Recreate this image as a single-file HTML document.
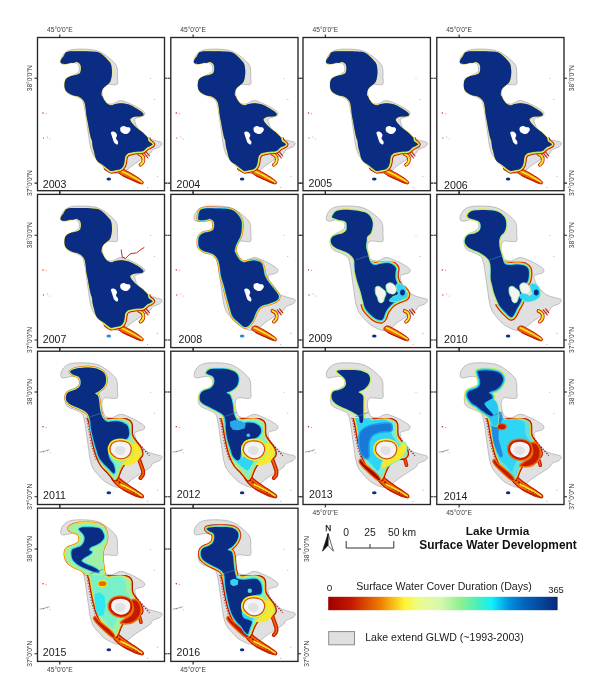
<!DOCTYPE html>
<html><head><meta charset="utf-8"><style>
html,body{margin:0;padding:0;background:#fff;}
svg{display:block;}
svg{will-change:transform;}
</style></head><body>
<svg width="602" height="699" viewBox="0 0 602 699">
<defs>
<linearGradient id="ramp" x1="0" x2="1" y1="0" y2="0">
<stop offset="0" stop-color="#a00000"/>
<stop offset="0.1" stop-color="#c41800"/>
<stop offset="0.23" stop-color="#f08000"/>
<stop offset="0.333" stop-color="#fff530"/>
<stop offset="0.40" stop-color="#eafc90"/>
<stop offset="0.487" stop-color="#d8f8b0"/>
<stop offset="0.574" stop-color="#90f090"/>
<stop offset="0.66" stop-color="#40f0c0"/>
<stop offset="0.713" stop-color="#10f0ff"/>
<stop offset="0.79" stop-color="#0090e0"/>
<stop offset="0.85" stop-color="#0068c0"/>
<stop offset="1" stop-color="#08287a"/>
</linearGradient>
<path id="glwd" d="M23.2,24.0 C23.2,22.8 23.7,20.7 24.5,19.1 C25.3,17.6 26.6,15.8 28.2,14.7 C29.8,13.5 31.7,12.7 34.4,12.2 C37.1,11.7 41.1,11.6 44.4,11.6 C47.7,11.6 51.5,11.8 54.4,12.2 C57.3,12.6 59.5,13.2 61.8,14.1 C64.1,15.0 66.0,16.4 68.1,17.8 C70.2,19.2 72.5,21.1 74.3,22.8 C76.1,24.5 77.8,26.1 78.7,27.8 C79.6,29.5 79.7,30.9 79.9,32.8 C80.1,34.7 79.9,36.7 79.9,39.0 C79.9,41.3 80.8,45.1 79.9,46.5 C79.0,47.9 76.3,47.1 74.3,47.1 C72.3,47.1 69.6,46.2 68.1,46.5 C66.5,46.8 65.6,47.8 65.0,49.0 C64.4,50.2 64.2,52.0 64.3,53.9 C64.4,55.8 65.0,58.3 65.6,60.2 C66.2,62.1 66.8,64.2 68.1,65.2 C69.3,66.2 71.8,66.4 73.1,66.5 C74.4,66.6 74.4,66.6 76.1,66.0 C77.8,65.4 80.7,63.1 83.4,63.1 C86.1,63.1 89.2,64.8 92.1,66.0 C95.0,67.2 98.5,68.9 100.9,70.4 C103.4,71.9 106.0,73.5 106.8,74.8 C107.6,76.1 107.0,77.6 106.0,78.4 C105.0,79.2 102.4,79.3 100.9,79.9 C99.4,80.5 97.5,80.5 97.2,82.1 C97.0,83.7 98.1,87.0 99.4,89.4 C100.8,91.8 103.3,94.8 105.3,96.7 C107.2,98.7 108.9,100.0 111.1,101.1 C113.3,102.2 116.3,102.7 118.4,103.3 C120.5,103.9 122.6,104.1 123.6,104.7 C124.6,105.3 124.7,106.1 124.3,106.9 C123.9,107.8 122.9,109.0 121.4,109.8 C119.9,110.6 117.0,111.0 115.5,112.0 C114.0,113.0 114.4,114.5 112.7,116.0 C111.0,117.5 107.8,119.3 105.4,120.9 C103.0,122.5 100.1,124.4 98.1,125.7 C96.1,127.0 94.9,127.9 93.5,129.0 C92.1,130.1 91.0,131.4 89.5,132.5 C88.0,133.6 86.3,134.9 84.5,135.5 C82.7,136.1 80.4,136.1 78.5,135.8 C76.6,135.5 75.0,134.5 73.1,133.6 C71.2,132.7 69.2,131.8 67.3,130.3 C65.3,128.8 63.3,126.7 61.4,124.5 C59.5,122.3 57.0,119.9 55.6,117.2 C54.2,114.5 53.4,111.6 52.7,108.4 C52.0,105.2 51.7,101.5 51.2,98.1 C50.7,94.7 50.2,91.3 49.7,87.9 C49.2,84.5 48.8,80.9 48.3,77.7 C47.8,74.5 47.4,71.4 46.8,68.9 C46.2,66.4 46.0,64.3 44.6,62.6 C43.2,60.9 40.3,59.9 38.2,58.9 C36.1,57.9 33.5,57.2 31.9,56.4 C30.3,55.6 29.5,54.9 28.8,53.9 C28.1,52.9 27.8,51.7 27.6,50.2 C27.4,48.8 27.3,46.7 27.6,45.2 C27.9,43.8 28.5,42.5 29.4,41.5 C30.3,40.5 31.7,39.8 33.2,39.0 C34.7,38.2 36.9,37.3 38.2,36.5 C39.6,35.7 40.7,35.0 41.3,34.0 C41.9,33.0 42.0,31.4 41.9,30.3 C41.8,29.2 41.3,28.0 40.7,27.2 C40.1,26.4 39.5,25.6 38.2,25.3 C37.0,25.0 34.9,25.1 33.2,25.3 C31.5,25.5 29.6,26.3 28.2,26.5 C26.8,26.7 25.3,26.9 24.5,26.5 C23.7,26.1 23.2,25.2 23.2,24.0 Z"/>
<path id="navy2003" d="M23.0,24.5 C22.9,23.8 23.5,22.4 24.0,21.5 C24.5,20.6 25.4,19.9 26.0,19.0 C26.6,18.1 26.9,16.8 27.5,16.0 C28.1,15.2 28.3,14.9 29.5,14.5 C30.7,14.1 32.0,13.8 34.5,13.7 C37.0,13.6 41.1,13.6 44.4,13.7 C47.7,13.8 51.6,13.8 54.4,14.0 C57.2,14.2 59.4,14.2 61.4,15.0 C63.4,15.8 64.9,17.2 66.4,18.5 C67.9,19.8 69.2,21.2 70.3,22.5 C71.4,23.8 72.6,24.9 73.3,26.4 C74.0,27.9 74.1,29.6 74.3,31.4 C74.5,33.2 74.5,35.6 74.3,37.4 C74.1,39.2 73.7,41.1 73.3,42.4 C72.9,43.7 72.5,44.5 71.8,45.4 C71.0,46.3 69.8,47.1 68.8,47.9 C67.8,48.7 66.6,49.5 65.9,50.4 C65.2,51.3 64.7,52.2 64.4,53.4 C64.1,54.6 63.9,56.5 63.9,57.4 C63.9,58.2 64.2,57.6 64.7,58.5 C65.2,59.4 65.8,61.2 66.7,62.5 C67.6,63.8 68.9,65.6 70.1,66.5 C71.3,67.4 72.8,67.8 74.1,67.8 C75.4,67.8 76.2,66.8 78.0,66.5 C79.8,66.2 82.5,65.7 84.7,65.8 C86.9,65.9 89.1,66.3 91.3,67.1 C93.5,67.9 96.0,69.3 98.0,70.4 C100.0,71.5 102.0,72.8 103.3,73.8 C104.6,74.8 105.7,75.6 105.9,76.4 C106.1,77.2 105.9,78.0 104.6,78.4 C103.3,78.9 99.8,78.8 98.0,79.1 C96.2,79.4 94.9,79.9 94.0,80.4 C93.1,81.0 92.5,81.4 92.7,82.4 C92.9,83.4 94.2,85.1 95.3,86.4 C96.4,87.7 97.8,89.1 99.3,90.4 C100.8,91.7 102.8,92.9 104.6,94.4 C106.4,96.0 108.8,98.2 109.9,99.7 C111.0,101.2 110.2,102.3 111.0,103.5 C111.8,104.7 114.8,105.9 115.0,106.8 C115.2,107.7 113.2,108.2 112.3,108.8 C111.4,109.3 110.7,109.3 109.6,110.1 C108.5,110.9 107.1,112.8 105.6,113.5 C104.0,114.2 102.1,113.9 100.3,114.1 C98.5,114.3 96.7,114.5 95.0,114.8 C93.3,115.1 91.5,115.3 90.3,116.1 C89.1,116.9 88.2,118.1 87.7,119.4 C87.2,120.7 87.3,122.5 87.0,124.1 C86.7,125.6 86.4,127.5 85.7,128.7 C85.0,129.9 84.3,130.7 83.0,131.4 C81.7,132.1 79.2,132.4 77.7,132.7 C76.2,133.0 74.9,133.6 73.7,133.4 C72.5,133.2 71.5,132.2 70.4,131.4 C69.3,130.6 68.3,129.6 67.1,128.7 C65.9,127.8 64.3,127.0 63.1,126.1 C61.9,125.2 60.7,124.5 59.8,123.4 C58.9,122.3 58.3,121.0 57.8,119.4 C57.2,117.9 57.0,115.9 56.5,114.1 C56.0,112.3 55.4,110.6 55.1,108.8 C54.8,107.0 54.8,105.0 54.5,103.5 C54.2,102.0 53.7,101.7 53.2,99.7 C52.7,97.7 52.0,94.4 51.5,91.7 C51.0,89.0 50.6,86.1 50.1,83.7 C49.6,81.3 49.1,79.3 48.8,77.1 C48.5,74.9 48.4,72.5 48.1,70.4 C47.8,68.3 47.6,66.2 46.8,64.5 C46.0,62.9 44.7,61.5 43.5,60.5 C42.3,59.5 40.4,58.9 39.5,58.5 C38.6,58.1 39.4,58.7 38.4,58.4 C37.4,58.1 35.0,57.6 33.5,56.9 C32.0,56.2 30.5,55.3 29.5,54.4 C28.5,53.5 27.9,52.6 27.5,51.4 C27.1,50.2 27.0,48.7 27.0,47.4 C27.0,46.1 27.1,44.6 27.5,43.4 C27.9,42.2 28.5,41.2 29.5,40.4 C30.5,39.6 32.0,38.9 33.5,38.4 C35.0,37.9 37.0,37.8 38.4,37.4 C39.8,37.0 41.1,36.6 41.9,35.9 C42.7,35.2 43.0,34.5 43.2,33.4 C43.5,32.3 43.5,30.6 43.4,29.4 C43.3,28.2 43.1,27.2 42.4,26.4 C41.7,25.6 40.5,24.7 39.4,24.5 C38.2,24.3 36.6,25.2 35.5,25.4 C34.4,25.5 33.7,25.2 32.5,25.4 C31.3,25.6 29.8,26.3 28.5,26.4 C27.2,26.5 25.4,26.3 24.5,26.0 C23.6,25.7 23.1,25.2 23.0,24.5 Z"/>
<path id="navy2008" d="M27.6,25.0 C27.0,24.1 27.6,21.8 27.8,20.5 C28.0,19.2 28.2,17.9 28.6,17.0 C29.1,16.1 29.5,15.5 30.5,15.0 C31.5,14.5 32.2,14.2 34.5,14.0 C36.8,13.8 41.1,13.9 44.4,14.0 C47.7,14.1 51.6,14.1 54.4,14.3 C57.2,14.6 59.1,14.8 61.0,15.5 C62.9,16.2 64.2,17.3 65.5,18.5 C66.8,19.7 67.9,21.1 68.8,22.5 C69.7,23.9 70.4,25.4 70.8,27.0 C71.2,28.6 71.0,30.2 71.0,32.0 C71.0,33.8 70.8,35.8 70.5,37.5 C70.2,39.2 70.0,40.6 69.5,42.0 C69.0,43.4 68.2,44.7 67.5,46.0 C66.8,47.3 66.0,48.8 65.5,50.0 C65.0,51.2 64.7,52.2 64.4,53.4 C64.1,54.6 63.9,56.5 63.9,57.4 C63.9,58.2 64.2,57.6 64.7,58.5 C65.2,59.4 65.8,61.2 66.7,62.5 C67.6,63.8 68.9,65.6 70.1,66.5 C71.3,67.4 72.8,67.8 74.1,67.8 C75.4,67.8 76.2,67.0 78.0,66.8 C79.8,66.5 82.6,66.0 84.7,66.3 C86.8,66.6 89.2,67.2 90.5,68.5 C91.8,69.8 92.0,71.9 92.6,74.0 C93.2,76.1 93.1,78.9 94.1,81.3 C95.1,83.7 96.8,86.2 98.5,88.6 C100.2,91.0 102.7,93.7 104.3,95.9 C105.9,98.1 107.8,100.1 108.0,101.8 C108.2,103.5 107.4,104.9 105.8,106.1 C104.2,107.3 101.2,108.1 98.5,109.1 C95.8,110.1 91.9,110.5 89.7,112.0 C87.5,113.5 86.5,115.6 85.3,117.8 C84.1,120.0 83.6,123.0 82.4,125.2 C81.2,127.4 79.5,129.8 78.0,131.0 C76.5,132.2 75.3,133.0 73.6,132.5 C71.9,132.0 69.8,129.8 67.8,128.1 C65.8,126.4 63.4,124.6 61.9,122.2 C60.4,119.8 60.0,116.7 59.0,113.5 C58.0,110.3 57.1,106.9 56.1,103.2 C55.1,99.5 54.2,95.2 53.2,91.5 C52.2,87.8 50.9,84.7 50.2,81.3 C49.5,77.9 49.4,73.8 48.8,71.0 C48.2,68.2 47.7,66.2 46.8,64.5 C45.9,62.8 44.7,61.5 43.5,60.5 C42.3,59.5 41.2,59.1 39.5,58.5 C37.8,57.9 35.2,57.6 33.5,56.9 C31.8,56.2 30.4,55.3 29.5,54.4 C28.6,53.5 28.1,52.6 27.8,51.4 C27.5,50.2 27.5,48.7 27.5,47.4 C27.5,46.1 27.6,44.5 28.0,43.4 C28.4,42.3 28.9,41.4 29.8,40.6 C30.7,39.8 32.1,38.9 33.5,38.4 C34.9,37.9 37.0,37.8 38.4,37.4 C39.8,37.0 41.1,36.6 41.9,35.9 C42.7,35.2 43.0,34.5 43.2,33.4 C43.5,32.3 43.5,30.6 43.4,29.4 C43.3,28.2 43.1,27.2 42.4,26.4 C41.7,25.6 40.5,24.7 39.4,24.5 C38.2,24.3 36.8,25.2 35.5,25.4 C34.2,25.6 32.8,25.9 31.5,25.8 C30.2,25.7 28.2,25.9 27.6,25.0 Z"/>
<path id="navy2009" d="M29.1,22.9 C28.9,22.1 29.7,20.6 30.4,19.6 C31.1,18.6 31.8,17.6 33.1,16.9 C34.4,16.2 36.0,15.8 38.4,15.6 C40.8,15.4 44.6,15.4 47.7,15.6 C50.8,15.8 54.3,16.3 57.0,16.9 C59.7,17.4 61.9,17.9 63.7,18.9 C65.5,19.9 66.7,21.3 67.7,22.9 C68.7,24.4 69.4,26.4 69.7,28.2 C70.0,30.0 69.6,31.7 69.3,33.5 C69.0,35.3 68.5,37.3 67.7,38.8 C66.9,40.2 65.0,40.9 64.3,42.2 C63.6,43.5 63.9,45.1 63.7,46.8 C63.5,48.4 62.9,50.3 63.0,52.1 C63.1,53.9 63.8,55.6 64.3,57.4 C64.8,59.2 65.1,61.0 65.7,62.8 C66.3,64.6 66.7,66.8 67.7,68.1 C68.7,69.4 69.8,70.5 71.6,70.7 C73.4,70.9 76.1,69.7 78.3,69.4 C80.5,69.1 82.9,68.5 84.9,68.7 C86.9,68.9 88.9,69.8 90.2,70.7 C91.5,71.6 92.6,72.8 93.0,74.0 C93.4,75.2 92.6,76.2 92.5,78.0 C92.4,79.8 92.0,82.2 92.6,84.5 C93.2,86.8 94.9,90.2 96.3,92.0 C97.7,93.8 99.5,93.8 100.8,95.0 C102.0,96.2 103.5,98.1 103.8,99.5 C104.0,100.9 103.5,102.2 102.3,103.2 C101.0,104.2 98.3,104.6 96.3,105.5 C94.3,106.4 92.0,107.2 90.3,108.5 C88.5,109.8 87.0,111.5 85.8,113.0 C84.5,114.5 83.7,115.7 82.8,117.4 C81.9,119.1 81.3,122.0 80.6,123.4 C79.9,124.8 79.5,125.5 78.4,125.7 C77.3,126.0 75.4,125.5 73.9,124.9 C72.4,124.3 70.9,123.2 69.4,121.9 C67.9,120.7 66.2,118.9 64.9,117.4 C63.7,115.9 62.8,115.0 61.9,113.0 C61.0,111.0 60.5,108.2 59.7,105.5 C59.0,102.8 58.3,99.5 57.4,96.5 C56.5,93.5 55.3,90.5 54.4,87.5 C53.5,84.5 52.7,81.2 52.2,78.6 C51.7,76.0 51.7,74.2 51.5,72.0 C51.3,69.8 51.6,67.3 51.0,65.4 C50.4,63.5 49.1,62.1 47.7,60.8 C46.3,59.5 44.2,58.3 42.4,57.4 C40.6,56.5 38.9,56.2 37.1,55.4 C35.3,54.6 33.2,53.8 31.8,52.8 C30.4,51.8 29.2,50.7 28.5,49.5 C27.8,48.3 27.6,46.7 27.8,45.5 C28.0,44.3 28.7,43.1 29.8,42.2 C30.9,41.3 32.8,40.8 34.4,40.2 C36.0,39.6 38.2,39.5 39.7,38.8 C41.2,38.1 42.4,37.3 43.1,36.2 C43.8,35.1 43.7,33.5 43.7,32.2 C43.7,30.9 43.8,29.2 43.1,28.2 C42.4,27.2 40.9,26.6 39.7,26.2 C38.5,25.8 37.1,25.8 35.8,25.5 C34.5,25.2 32.9,24.6 31.8,24.2 C30.7,23.8 29.3,23.7 29.1,22.9 Z"/>
<path id="navy2010" d="M30.6,21.6 C30.5,20.6 31.5,19.1 32.6,18.2 C33.7,17.3 35.0,16.6 37.3,16.2 C39.6,15.8 43.5,15.6 46.6,15.6 C49.7,15.6 53.2,15.8 55.9,16.2 C58.5,16.6 60.6,17.2 62.5,18.2 C64.4,19.2 66.1,20.8 67.2,22.2 C68.3,23.6 68.9,25.1 69.2,26.9 C69.5,28.7 69.5,31.0 69.2,32.9 C68.9,34.8 68.1,36.8 67.2,38.2 C66.3,39.6 64.7,40.3 63.9,41.5 C63.1,42.7 62.7,44.0 62.5,45.5 C62.3,47.0 62.3,48.8 62.5,50.8 C62.7,52.8 63.3,55.2 63.9,57.4 C64.5,59.6 65.2,62.1 65.9,64.1 C66.6,66.1 66.7,68.3 67.9,69.4 C69.1,70.5 71.0,70.6 73.2,70.7 C75.4,70.8 78.7,70.0 81.1,70.1 C83.5,70.2 86.1,70.6 87.8,71.4 C89.5,72.2 90.8,73.0 91.5,74.7 C92.2,76.4 92.2,79.5 92.0,81.6 C91.8,83.7 91.5,85.9 90.5,87.5 C89.5,89.1 87.0,89.2 86.0,91.0 C85.0,92.8 84.8,95.5 84.5,98.0 C84.2,100.5 85.2,103.3 84.5,106.0 C83.8,108.7 81.3,112.0 80.1,114.4 C78.9,116.8 78.1,119.0 77.1,120.4 C76.1,121.8 75.6,123.2 74.1,122.7 C72.6,122.2 70.1,119.5 68.1,117.4 C66.1,115.3 63.9,113.0 62.1,110.0 C60.4,107.0 58.8,102.8 57.6,99.5 C56.5,96.2 55.8,92.6 55.2,90.0 C54.6,87.4 54.1,86.8 53.9,84.0 C53.7,81.2 54.1,76.3 53.9,73.4 C53.7,70.5 53.5,68.7 52.6,66.8 C51.7,64.9 50.3,63.5 48.6,62.1 C46.9,60.7 44.7,59.2 42.6,58.1 C40.5,57.0 38.0,56.4 36.0,55.4 C34.0,54.4 31.9,53.3 30.6,52.1 C29.3,50.9 28.3,49.5 28.0,48.1 C27.7,46.7 28.0,44.8 28.7,43.5 C29.4,42.2 30.4,41.0 32.0,40.2 C33.6,39.4 36.8,39.5 38.6,38.8 C40.4,38.1 41.7,37.4 42.6,36.2 C43.5,35.0 43.9,33.0 43.9,31.5 C43.9,30.1 43.5,28.5 42.6,27.5 C41.7,26.5 40.2,26.1 38.6,25.5 C37.0,24.9 34.6,24.8 33.3,24.2 C32.0,23.6 30.7,22.6 30.6,21.6 Z"/>
<path id="navy2011" d="M32.8,21.0 C32.4,20.2 33.0,19.6 34.4,18.9 C35.8,18.2 38.2,17.3 41.1,16.9 C44.0,16.4 48.6,16.1 51.7,16.2 C54.8,16.3 57.4,16.8 59.7,17.6 C62.0,18.4 64.3,19.6 65.7,20.9 C67.1,22.2 67.9,23.7 68.3,25.5 C68.7,27.3 68.7,29.7 68.3,31.5 C67.9,33.3 66.9,34.8 65.7,36.2 C64.5,37.7 62.3,39.2 61.0,40.2 C59.7,41.2 57.8,41.5 57.7,42.2 C57.6,42.9 59.6,43.0 60.3,44.2 C61.0,45.4 61.4,47.5 61.7,49.5 C62.0,51.5 62.0,53.9 62.3,56.1 C62.6,58.3 63.0,60.8 63.7,62.8 C64.4,64.8 65.2,66.8 66.3,68.1 C67.4,69.4 68.5,70.4 70.3,70.7 C72.1,71.0 74.8,70.1 77.0,70.1 C79.2,70.1 81.6,70.2 83.6,70.7 C85.6,71.2 87.7,72.3 88.9,73.4 C90.1,74.5 90.6,75.6 91.0,77.4 C91.4,79.2 92.0,82.3 91.4,84.2 C90.9,86.1 89.5,87.6 87.7,88.6 C85.9,89.6 82.6,89.6 80.4,90.1 C78.2,90.6 76.0,90.5 74.6,91.5 C73.1,92.5 72.3,94.0 71.7,95.9 C71.1,97.9 70.7,101.0 70.9,103.2 C71.1,105.4 72.2,107.4 73.1,109.1 C74.0,110.8 75.4,111.8 76.1,113.5 C76.8,115.2 77.5,117.8 77.5,119.3 C77.5,120.8 77.1,122.5 76.1,122.2 C75.1,122.0 73.4,119.5 71.7,117.8 C70.0,116.1 67.5,114.0 65.8,112.0 C64.1,110.0 62.6,108.5 61.4,106.1 C60.2,103.7 59.5,100.6 58.5,97.4 C57.5,94.2 56.5,90.5 55.6,87.1 C54.8,83.7 53.9,79.8 53.4,76.9 C52.9,74.1 53.0,71.5 52.8,70.0 C52.6,68.5 52.9,69.4 52.4,68.1 C51.9,66.8 51.2,63.8 49.7,62.1 C48.2,60.4 45.8,59.2 43.7,58.1 C41.6,57.0 39.2,56.4 37.1,55.4 C35.0,54.4 32.5,53.3 31.1,52.1 C29.7,50.9 28.8,49.7 28.5,48.1 C28.2,46.5 28.5,44.1 29.1,42.8 C29.8,41.5 30.8,41.0 32.4,40.2 C33.9,39.4 36.7,39.1 38.4,38.2 C40.1,37.3 41.6,36.4 42.4,34.9 C43.2,33.4 43.3,31.1 43.1,29.5 C42.9,27.9 42.2,26.4 41.1,25.5 C40.0,24.6 37.9,24.6 36.5,23.8 C35.1,23.1 33.1,21.8 32.8,21.0 Z"/>
<path id="navy2012" d="M35.5,21.5 C35.8,20.7 36.8,18.8 38.9,18.2 C41.0,17.6 45.1,17.6 48.2,17.6 C51.3,17.6 54.8,17.6 57.5,18.2 C60.2,18.8 62.5,19.7 64.2,20.9 C65.9,22.1 67.0,23.8 67.5,25.5 C68.0,27.2 67.8,29.2 67.5,30.9 C67.2,32.6 66.7,34.1 65.5,35.5 C64.3,36.9 61.9,38.5 60.2,39.5 C58.5,40.5 55.7,40.8 55.5,41.5 C55.3,42.2 58.0,42.4 58.9,43.5 C59.8,44.6 60.2,46.2 60.8,48.1 C61.3,50.0 61.9,52.6 62.2,54.8 C62.5,57.0 62.4,59.4 62.8,61.4 C63.2,63.4 64.0,65.2 64.8,66.7 C65.6,68.2 66.3,69.8 67.5,70.7 C68.7,71.6 70.2,72.0 72.1,72.1 C74.0,72.2 76.6,71.3 78.8,71.4 C81.0,71.5 83.6,71.9 85.4,72.7 C87.2,73.5 88.6,74.6 89.4,76.0 C90.2,77.4 90.6,79.4 90.2,81.0 C89.8,82.6 88.3,84.4 86.8,85.7 C85.2,87.0 83.1,87.6 80.9,88.6 C78.7,89.6 75.3,90.3 73.6,91.5 C71.9,92.7 71.3,94.0 70.7,95.9 C70.1,97.9 70.2,101.2 70.0,103.2 C69.8,105.2 69.8,106.6 69.2,107.6 C68.6,108.6 67.5,109.6 66.3,109.1 C65.1,108.6 63.1,106.9 61.9,104.7 C60.7,102.5 60.0,99.1 59.0,95.9 C58.0,92.7 56.8,88.9 56.1,85.7 C55.4,82.5 55.2,79.3 55.0,77.0 C54.8,74.7 55.1,74.0 54.9,72.1 C54.6,70.2 54.3,67.1 53.5,65.4 C52.7,63.7 51.8,63.2 50.2,62.1 C48.7,61.0 46.3,59.9 44.2,58.8 C42.1,57.7 39.7,56.5 37.6,55.4 C35.5,54.3 33.0,53.3 31.6,52.1 C30.2,50.9 29.3,49.7 29.0,48.1 C28.7,46.5 29.0,44.2 29.6,42.8 C30.2,41.4 31.3,40.4 32.9,39.5 C34.4,38.6 37.2,38.5 38.9,37.5 C40.6,36.5 42.1,35.0 42.9,33.5 C43.7,31.9 43.8,29.6 43.6,28.2 C43.4,26.8 42.7,25.8 41.6,24.9 C40.5,24.0 37.9,23.5 36.9,22.9 C35.9,22.3 35.2,22.3 35.5,21.5 Z"/>
<path id="navy2013" d="M34.4,19.6 C35.4,19.2 38.2,19.0 41.1,18.9 C44.0,18.8 48.6,18.7 51.7,18.9 C54.8,19.1 57.5,19.5 59.7,20.2 C61.9,20.9 63.8,21.7 65.0,22.9 C66.2,24.1 66.9,25.8 67.0,27.5 C67.1,29.2 66.6,31.2 65.7,32.9 C64.8,34.6 63.4,36.2 61.7,37.5 C60.0,38.8 56.2,39.9 55.7,40.8 C55.2,41.7 57.6,42.0 58.4,42.8 C59.2,43.6 60.0,44.0 60.3,45.5 C60.6,47.0 60.3,49.7 60.3,52.1 C60.3,54.5 60.3,57.7 60.3,60.1 C60.3,62.5 60.4,64.9 60.3,66.7 C60.2,68.5 60.2,69.9 59.7,70.7 C59.2,71.5 57.7,72.3 57.0,71.4 C56.3,70.5 56.8,67.1 55.7,65.4 C54.6,63.7 52.6,62.7 50.4,61.4 C48.2,60.1 45.1,58.7 42.4,57.4 C39.7,56.1 36.5,54.8 34.4,53.5 C32.3,52.2 30.8,51.0 29.8,49.5 C28.8,48.0 28.4,45.8 28.5,44.2 C28.6,42.7 29.2,41.1 30.4,40.2 C31.6,39.3 34.0,39.5 35.8,38.8 C37.6,38.1 39.9,37.3 41.1,36.2 C42.3,35.1 43.0,33.7 43.1,32.2 C43.2,30.8 42.5,28.8 41.7,27.5 C40.9,26.2 39.5,25.2 38.4,24.2 C37.3,23.2 35.8,22.4 35.1,21.6 C34.4,20.8 33.4,20.1 34.4,19.6 Z"/>
<path id="navy2014" d="M41.6,20.0 C42.8,19.6 45.9,19.2 48.5,19.2 C51.1,19.2 54.7,19.5 57.1,20.0 C59.5,20.5 61.6,21.1 63.1,22.2 C64.6,23.3 65.7,25.1 66.1,26.5 C66.5,27.9 66.2,29.4 65.7,30.8 C65.2,32.2 64.2,33.8 63.1,35.1 C62.0,36.4 60.4,37.6 58.8,38.5 C57.2,39.4 54.8,39.6 53.6,40.2 C52.5,40.8 51.8,41.3 51.9,41.9 C52.0,42.5 53.9,42.8 54.5,43.7 C55.1,44.6 55.9,46.1 55.3,47.1 C54.7,48.1 52.4,48.8 51.1,49.7 C49.8,50.6 47.8,51.1 47.6,52.3 C47.5,53.4 49.2,55.3 50.2,56.6 C51.2,57.9 52.6,58.9 53.6,60.0 C54.6,61.1 55.9,62.5 56.2,63.4 C56.5,64.2 56.1,65.1 55.3,65.1 C54.4,65.1 52.8,64.4 51.1,63.4 C49.4,62.4 46.9,60.5 45.0,59.1 C43.1,57.7 41.5,55.9 39.9,54.8 C38.3,53.7 36.9,53.4 35.6,52.3 C34.3,51.2 33.0,49.4 32.1,48.0 C31.2,46.6 30.4,45.0 30.4,43.7 C30.4,42.4 31.1,41.1 32.1,40.2 C33.1,39.3 35.0,39.1 36.4,38.5 C37.8,37.9 39.6,37.6 40.7,36.8 C41.9,35.9 42.9,34.7 43.3,33.4 C43.7,32.1 43.5,30.5 43.3,29.1 C43.1,27.7 42.4,26.0 42.0,24.8 C41.6,23.6 41.3,22.6 41.2,21.8 C41.1,21.0 40.4,20.4 41.6,20.0 Z"/>
<path id="navy2015" d="M41.5,20.6 C42.0,20.0 43.3,19.4 45.5,19.1 C47.7,18.9 51.8,18.9 54.6,19.1 C57.5,19.4 60.7,19.5 62.6,20.6 C64.5,21.7 65.4,24.1 66.1,25.6 C66.8,27.1 67.0,28.3 66.6,29.6 C66.2,30.9 64.9,32.4 63.6,33.6 C62.3,34.8 60.3,35.9 58.6,36.7 C56.9,37.6 54.8,37.9 53.6,38.7 C52.4,39.5 51.4,40.9 51.6,41.7 C51.8,42.5 54.6,42.9 54.6,43.7 C54.6,44.5 53.0,45.7 51.6,46.7 C50.2,47.7 47.8,48.7 46.5,49.7 C45.2,50.7 43.7,51.7 44.0,52.7 C44.3,53.7 46.6,54.7 48.5,55.7 C50.4,56.7 53.6,57.7 55.6,58.7 C57.6,59.7 59.6,60.8 60.6,61.7 C61.6,62.6 62.1,63.9 61.6,64.2 C61.1,64.5 59.3,64.1 57.6,63.7 C55.9,63.3 53.8,62.5 51.6,61.7 C49.4,60.9 46.5,59.7 44.5,58.7 C42.5,57.7 41.0,56.9 39.5,55.7 C38.0,54.5 36.4,53.2 35.5,51.7 C34.6,50.2 34.2,48.4 34.0,46.7 C33.8,45.0 33.8,42.9 34.5,41.7 C35.2,40.5 37.0,40.4 38.5,39.7 C40.0,39.0 42.2,38.7 43.5,37.7 C44.8,36.7 45.9,35.1 46.5,33.6 C47.1,32.1 47.3,30.1 47.0,28.6 C46.7,27.1 45.2,25.6 44.5,24.6 C43.8,23.6 43.0,23.3 42.5,22.6 C42.0,21.9 41.0,21.2 41.5,20.6 Z"/>
<path id="navy2016" d="M36.3,20.2 C37.3,19.5 41.1,19.1 44.2,18.9 C47.3,18.7 51.8,18.7 54.9,18.9 C58.0,19.1 60.8,19.4 62.8,20.2 C64.8,21.0 66.0,22.3 66.8,23.6 C67.6,24.9 67.7,26.6 67.5,28.2 C67.3,29.8 66.5,31.8 65.5,33.5 C64.5,35.2 62.9,36.9 61.5,38.2 C60.1,39.5 57.0,40.6 56.9,41.5 C56.8,42.4 59.9,42.4 60.8,43.5 C61.7,44.6 61.9,46.2 62.2,48.1 C62.5,50.0 62.6,52.6 62.8,54.8 C63.0,57.0 63.2,59.4 63.5,61.4 C63.8,63.4 64.3,65.2 64.8,66.7 C65.3,68.2 65.0,69.8 66.5,70.6 C68.0,71.4 71.4,71.6 74.0,71.6 C76.6,71.6 79.9,70.6 82.1,70.6 C84.3,70.6 85.8,70.8 87.1,71.6 C88.4,72.4 89.4,73.9 90.1,75.6 C90.8,77.3 91.1,79.9 91.1,81.6 C91.1,83.3 90.9,84.8 90.1,85.6 C89.3,86.4 87.4,86.3 86.1,86.6 C84.8,86.9 83.6,86.9 82.1,87.6 C80.6,88.3 78.6,89.5 77.1,90.7 C75.6,91.9 74.1,93.2 73.1,94.7 C72.1,96.2 71.4,97.9 71.1,99.7 C70.8,101.5 70.8,104.0 71.1,105.7 C71.4,107.4 71.9,108.7 73.1,109.7 C74.3,110.7 76.8,111.0 78.1,111.7 C79.4,112.4 80.9,112.4 81.1,113.7 C81.3,115.0 79.8,117.7 79.1,119.7 C78.4,121.7 77.9,125.0 77.1,125.7 C76.3,126.4 75.3,125.0 74.1,123.7 C72.9,122.4 71.4,119.4 70.1,117.7 C68.8,116.0 67.3,115.4 66.0,113.7 C64.7,112.0 63.2,110.0 62.0,107.7 C60.8,105.4 59.8,102.4 59.0,99.7 C58.2,97.0 57.7,94.7 57.0,91.7 C56.3,88.7 55.5,84.9 55.0,81.6 C54.5,78.2 54.2,74.1 54.0,71.6 C53.8,69.1 54.0,68.2 53.5,66.7 C53.0,65.2 52.2,64.0 50.9,62.8 C49.6,61.6 47.6,60.5 45.6,59.4 C43.6,58.3 41.0,57.3 38.9,56.1 C36.8,54.9 34.3,53.4 32.9,52.1 C31.5,50.8 30.7,49.7 30.3,48.1 C29.9,46.5 29.9,44.2 30.3,42.8 C30.7,41.4 31.6,40.4 32.9,39.5 C34.2,38.6 36.8,38.4 38.3,37.5 C39.8,36.6 41.3,35.6 42.2,34.2 C43.1,32.8 43.6,30.4 43.6,28.9 C43.6,27.3 43.1,25.9 42.2,24.9 C41.3,23.9 39.3,23.7 38.3,22.9 C37.3,22.1 35.3,20.9 36.3,20.2 Z"/>
<path id="WET" d="M31.5,21.5 C31.2,20.4 32.4,18.6 33.5,17.5 C34.6,16.4 35.8,15.7 38.0,15.2 C40.2,14.7 43.9,14.6 47.0,14.6 C50.1,14.6 53.8,14.8 56.5,15.2 C59.2,15.6 61.5,16.2 63.5,17.3 C65.5,18.4 67.3,20.0 68.5,21.5 C69.7,23.0 70.4,24.7 70.8,26.5 C71.2,28.3 71.3,30.5 71.0,32.5 C70.7,34.5 69.9,36.8 69.0,38.5 C68.1,40.2 66.2,41.1 65.5,42.5 C64.8,43.9 65.0,45.2 64.8,47.0 C64.6,48.8 64.3,50.9 64.3,53.0 C64.3,55.1 64.6,57.5 65.0,59.5 C65.4,61.5 65.9,63.5 66.7,65.0 C67.5,66.5 68.5,68.2 70.0,68.8 C71.5,69.3 73.8,68.5 76.0,68.3 C78.2,68.1 80.8,67.6 83.0,67.8 C85.2,68.0 87.8,68.6 89.5,69.5 C91.2,70.4 92.3,70.5 93.0,73.0 C93.7,75.5 92.8,81.1 93.6,84.2 C94.4,87.3 96.5,89.3 98.0,91.5 C99.5,93.7 101.4,95.5 102.4,97.4 C103.4,99.4 104.0,101.8 103.8,103.2 C103.5,104.7 102.9,105.4 100.9,106.1 C99.0,106.8 94.5,106.6 92.1,107.6 C89.7,108.6 87.9,110.3 86.3,112.0 C84.7,113.7 83.7,115.6 82.6,117.8 C81.5,120.0 80.5,123.5 79.7,125.2 C78.9,126.9 78.2,128.0 77.5,128.1 C76.8,128.2 76.7,127.3 75.5,126.0 C74.3,124.7 72.3,121.9 70.5,120.0 C68.7,118.1 66.6,116.8 64.9,114.4 C63.2,112.0 61.7,108.7 60.5,105.6 C59.3,102.5 58.5,99.2 57.6,95.9 C56.8,92.6 56.0,88.9 55.4,85.7 C54.8,82.5 54.4,79.6 53.9,76.9 C53.4,74.2 53.2,71.8 52.5,69.6 C51.8,67.4 51.1,65.2 49.5,63.5 C47.9,61.8 45.2,60.7 43.0,59.5 C40.8,58.3 38.2,57.5 36.0,56.5 C33.8,55.5 31.5,54.5 30.0,53.3 C28.5,52.0 27.7,50.5 27.2,49.0 C26.7,47.5 26.7,45.5 27.0,44.0 C27.3,42.5 27.9,41.3 29.2,40.3 C30.4,39.3 32.8,38.8 34.5,38.2 C36.2,37.6 38.2,37.4 39.5,36.5 C40.8,35.6 42.0,34.3 42.5,33.0 C43.0,31.7 43.2,29.8 42.8,28.5 C42.4,27.2 41.2,26.2 40.0,25.5 C38.8,24.8 36.9,24.7 35.5,24.0 C34.1,23.3 31.8,22.6 31.5,21.5 Z"/>
<path id="ISLAND" d="M74.5,92.5 C75.8,90.9 78.2,90.1 80.5,89.8 C82.8,89.5 86.4,89.9 88.5,90.6 C90.6,91.3 92.2,92.6 93.0,94.2 C93.8,95.8 94.1,98.1 93.6,100.0 C93.1,101.9 91.7,104.3 90.0,105.6 C88.3,106.9 85.4,107.7 83.2,107.6 C81.0,107.5 78.6,106.5 76.8,105.2 C75.0,103.9 73.0,101.7 72.6,99.6 C72.2,97.5 73.2,94.1 74.5,92.5 Z"/>
<path id="delta" d="M72.5,128.5 C73.3,129.2 75.7,131.3 77.5,132.5 C79.3,133.7 81.5,134.5 83.5,135.5 C85.5,136.5 87.5,137.5 89.5,138.5 C91.5,139.5 93.7,140.6 95.5,141.5 C97.3,142.4 99.0,143.1 100.5,143.8 C102.0,144.5 103.8,145.3 104.5,145.6"/>
<path id="delta2" d="M80.0,131.5 C81.0,131.8 84.1,132.7 86.0,133.5 C87.9,134.3 89.7,135.5 91.5,136.5 C93.3,137.5 95.4,138.7 97.0,139.5 C98.6,140.3 100.3,141.2 101.0,141.5"/>
<path id="estrip" d="M98.5,99.5 C98.8,100.4 99.9,103.2 100.6,105.0 C101.2,106.8 101.8,108.8 102.4,110.5 C103.0,112.2 103.7,113.9 104.2,115.5 C104.7,117.1 105.4,118.6 105.6,120.0 C105.8,121.4 105.7,122.9 105.2,124.0 C104.8,125.1 103.3,126.3 102.9,126.8"/>
<path id="seblob" d="M109.0,113.0 C109.9,112.9 111.5,114.7 111.5,116.0 C111.5,117.3 109.8,119.3 109.0,121.0 C108.2,122.7 107.3,124.6 106.5,126.0 C105.7,127.4 104.8,128.9 104.0,129.5 C103.2,130.1 101.9,130.1 101.5,129.5 C101.1,128.9 101.1,127.4 101.5,126.0 C101.9,124.6 103.2,122.6 104.0,121.0 C104.8,119.4 105.2,117.8 106.0,116.5 C106.8,115.2 108.1,113.1 109.0,113.0 Z"/>
<path id="isl1" d="M83.0,90.0 C83.5,89.2 85.0,88.6 86.0,88.5 C87.0,88.4 88.0,89.2 89.0,89.5 C90.0,89.8 91.3,89.5 92.0,90.0 C92.7,90.5 93.2,91.6 93.0,92.5 C92.8,93.4 91.8,94.8 91.0,95.5 C90.2,96.2 89.0,96.5 88.0,96.5 C87.0,96.5 85.8,96.0 85.0,95.5 C84.2,95.0 83.3,94.4 83.0,93.5 C82.7,92.6 82.5,90.8 83.0,90.0 Z"/>
<path id="isl2" d="M73.5,95.0 C73.8,94.2 75.2,93.9 76.0,94.0 C76.8,94.1 77.9,94.8 78.5,95.5 C79.1,96.2 79.5,97.1 79.5,98.0 C79.5,98.9 78.3,100.0 78.5,101.0 C78.7,102.0 80.2,103.0 80.5,104.0 C80.8,105.0 80.6,106.8 80.0,107.0 C79.4,107.2 77.8,106.3 77.0,105.5 C76.2,104.7 75.9,103.1 75.5,102.0 C75.1,100.9 74.8,100.2 74.5,99.0 C74.2,97.8 73.2,95.8 73.5,95.0 Z"/>
<path id="BLUE13" d="M88.0,72.5 C86.5,71.3 83.0,71.8 80.0,72.0 C77.0,72.2 73.0,72.8 70.0,73.5 C67.0,74.2 64.2,75.2 62.0,76.5 C59.8,77.8 58.0,79.1 57.0,81.0 C56.0,82.9 55.9,85.5 55.8,88.0 C55.7,90.5 55.8,93.5 56.2,96.0 C56.7,98.5 57.5,101.2 58.5,103.0 C59.5,104.8 60.8,106.5 62.0,107.0 C63.2,107.5 65.3,107.5 66.0,106.0 C66.7,104.5 65.9,100.7 66.0,98.0 C66.1,95.3 65.8,92.3 66.5,90.0 C67.2,87.7 68.2,85.5 70.0,84.0 C71.8,82.5 74.5,81.6 77.0,81.0 C79.5,80.4 83.0,80.8 85.0,80.5 C87.0,80.2 88.5,80.3 89.0,79.0 C89.5,77.7 89.5,73.7 88.0,72.5 Z"/>
<path id="BLUE14" d="M60.0,60.0 C58.8,60.8 57.8,63.8 57.0,66.0 C56.2,68.2 55.2,70.3 55.0,73.0 C54.8,75.7 55.2,78.8 55.5,82.0 C55.8,85.2 56.2,89.0 57.0,92.0 C57.8,95.0 58.9,97.7 60.0,100.0 C61.1,102.3 62.5,105.3 63.5,106.0 C64.5,106.7 65.9,105.7 66.0,104.0 C66.1,102.3 64.7,98.7 64.0,96.0 C63.3,93.3 62.3,90.8 62.0,88.0 C61.7,85.2 61.7,81.7 62.0,79.0 C62.3,76.3 63.3,74.2 64.0,72.0 C64.7,69.8 66.0,67.8 66.0,66.0 C66.0,64.2 65.0,62.0 64.0,61.0 C63.0,60.0 61.2,59.2 60.0,60.0 Z"/>
<path id="CYANS" d="M58.0,98.0 C58.2,98.8 60.5,103.7 62.0,106.0 C63.5,108.3 65.2,110.2 67.0,112.0 C68.8,113.8 71.3,115.8 73.0,117.0 C74.7,118.2 75.8,119.3 77.0,119.0 C78.2,118.7 79.0,116.5 80.0,115.0 C81.0,113.5 82.0,111.3 83.0,110.0 C84.0,108.7 84.8,107.8 86.0,107.0 C87.2,106.2 89.7,106.0 90.0,105.0 C90.3,104.0 89.3,101.8 88.0,101.0 C86.7,100.2 84.0,99.7 82.0,100.0 C80.0,100.3 77.8,101.8 76.0,103.0 C74.2,104.2 72.3,106.2 71.0,107.0 C69.7,107.8 69.2,108.2 68.0,108.0 C66.8,107.8 65.2,107.2 64.0,106.0 C62.8,104.8 62.0,102.3 61.0,101.0 C60.0,99.7 57.8,97.2 58.0,98.0 Z"/>
<path id="CYAN14" d="M44.5,48.0 C45.5,46.5 48.1,47.1 50.0,47.0 C51.9,46.9 54.3,46.7 56.0,47.5 C57.7,48.3 59.1,50.2 60.0,52.0 C60.9,53.8 61.2,55.7 61.5,58.0 C61.8,60.3 61.7,63.3 61.5,66.0 C61.3,68.7 61.4,72.7 60.5,74.0 C59.6,75.3 57.2,75.0 56.0,74.0 C54.8,73.0 54.3,70.0 53.0,68.0 C51.7,66.0 49.5,64.0 48.0,62.0 C46.5,60.0 44.6,58.3 44.0,56.0 C43.4,53.7 43.5,49.5 44.5,48.0 Z"/>
<path id="CYAN14L" d="M28.7,39.4 C29.2,38.5 30.8,38.1 31.5,38.5 C32.2,38.9 32.8,40.6 33.0,42.0 C33.2,43.4 33.2,45.6 33.0,47.0 C32.8,48.4 32.6,50.2 32.0,50.5 C31.4,50.8 30.1,50.1 29.5,49.0 C28.9,47.9 28.6,45.6 28.5,44.0 C28.4,42.4 28.2,40.3 28.7,39.4 Z"/>
<path id="REDBL" d="M57.5,108.0 C58.4,108.3 59.9,111.0 61.5,112.5 C63.1,114.0 65.2,115.5 67.0,117.0 C68.8,118.5 70.9,120.0 72.5,121.5 C74.1,123.0 75.7,124.7 76.5,126.0 C77.3,127.3 77.8,129.0 77.5,129.5 C77.2,130.0 75.8,129.8 74.5,129.0 C73.2,128.2 71.3,126.6 69.5,125.0 C67.7,123.4 65.3,121.2 63.5,119.5 C61.7,117.8 59.8,116.0 58.5,114.5 C57.2,113.0 56.2,111.6 56.0,110.5 C55.8,109.4 56.6,107.7 57.5,108.0 Z"/>
<path id="REDISL" d="M93.5,92.5 C93.9,91.1 97.0,90.9 98.5,91.5 C100.0,92.1 101.7,94.1 102.5,96.0 C103.3,97.9 103.7,100.8 103.5,103.0 C103.3,105.2 102.7,107.2 101.5,109.0 C100.3,110.8 98.5,112.4 96.5,113.5 C94.5,114.6 91.8,115.3 89.5,115.5 C87.2,115.7 83.3,115.3 83.0,114.5 C82.7,113.7 85.8,111.8 87.5,110.5 C89.2,109.2 92.1,108.2 93.5,106.5 C94.9,104.8 96.0,102.3 96.0,100.0 C96.0,97.7 93.1,93.9 93.5,92.5 Z"/>
<path id="ISL09a" d="M72.5,93.0 C73.1,91.8 74.9,91.8 76.0,92.0 C77.1,92.2 78.0,93.2 79.0,94.0 C80.0,94.8 81.3,95.5 82.0,96.5 C82.7,97.5 83.1,98.8 83.0,100.0 C82.9,101.2 81.9,102.3 81.5,103.5 C81.1,104.7 81.1,106.2 80.5,107.0 C79.9,107.8 78.8,108.5 78.0,108.5 C77.2,108.5 76.1,107.9 75.5,107.0 C74.9,106.1 75.0,104.3 74.5,103.0 C74.0,101.7 72.8,100.7 72.5,99.0 C72.2,97.3 71.9,94.2 72.5,93.0 Z"/>
<path id="ISL09b" d="M83.0,91.0 C83.3,89.6 84.9,88.8 86.0,88.5 C87.1,88.2 88.4,88.4 89.5,89.0 C90.6,89.6 91.8,90.8 92.5,92.0 C93.2,93.2 93.8,94.8 93.5,96.0 C93.2,97.2 92.1,99.0 91.0,99.5 C89.9,100.0 88.2,99.4 87.0,99.0 C85.8,98.6 84.7,98.3 84.0,97.0 C83.3,95.7 82.7,92.4 83.0,91.0 Z"/>
<path id="CYAN09" d="M93.0,90.5 C93.5,89.5 95.7,88.8 97.0,89.0 C98.3,89.2 99.9,90.2 101.0,91.5 C102.1,92.8 103.2,94.8 103.5,96.5 C103.8,98.2 103.8,100.5 103.0,102.0 C102.2,103.5 100.8,104.6 99.0,105.5 C97.2,106.4 94.1,107.3 92.0,107.5 C89.9,107.7 86.9,107.3 86.5,106.5 C86.1,105.7 88.1,103.6 89.5,102.5 C90.9,101.4 94.2,101.2 95.0,100.0 C95.8,98.8 94.3,96.6 94.0,95.0 C93.7,93.4 92.5,91.5 93.0,90.5 Z"/>
<path id="YEL13" d="M81.0,108.5 C82.4,107.2 85.1,106.8 87.0,105.5 C88.9,104.2 90.9,102.7 92.5,101.0 C94.1,99.3 95.3,97.2 96.5,95.5 C97.7,93.8 98.5,91.6 99.5,91.0 C100.5,90.4 101.8,91.0 102.5,92.0 C103.2,93.0 104.2,95.1 104.0,97.0 C103.8,98.9 102.8,101.6 101.5,103.5 C100.2,105.4 98.0,107.0 96.0,108.5 C94.0,110.0 91.5,111.3 89.5,112.5 C87.5,113.7 85.7,114.7 84.0,115.5 C82.3,116.3 80.4,117.9 79.5,117.5 C78.6,117.1 78.2,114.5 78.5,113.0 C78.8,111.5 79.6,109.8 81.0,108.5 Z"/>
<path id="WET15N" d="M32.5,18.6 C33.4,17.7 35.0,16.7 37.5,16.1 C40.0,15.5 44.1,15.2 47.5,15.1 C50.9,15.0 54.8,15.1 57.6,15.6 C60.5,16.1 62.8,16.9 64.6,18.1 C66.3,19.3 67.3,20.9 68.1,22.6 C68.8,24.4 69.1,26.6 69.1,28.6 C69.1,30.6 68.7,32.8 68.1,34.6 C67.5,36.5 66.2,38.0 65.6,39.7 C65.0,41.4 64.8,42.7 64.6,44.7 C64.4,46.7 64.4,49.2 64.6,51.7 C64.8,54.2 65.3,57.2 65.6,59.7 C65.9,62.2 66.4,64.5 66.6,66.5 C66.8,68.5 69.6,71.1 66.6,72.0 C63.6,72.9 51.5,73.0 48.5,72.0 C45.5,71.0 49.2,67.4 48.5,65.7 C47.8,64.0 46.3,62.9 44.5,61.7 C42.7,60.5 39.7,59.9 37.5,58.7 C35.3,57.5 33.0,56.2 31.5,54.7 C30.0,53.2 29.1,51.5 28.5,49.7 C27.9,47.9 27.7,45.4 28.0,43.7 C28.3,42.0 29.1,40.7 30.5,39.7 C31.9,38.7 34.7,38.6 36.5,37.7 C38.3,36.9 40.5,36.0 41.5,34.6 C42.5,33.2 42.6,31.1 42.5,29.6 C42.4,28.1 42.0,26.6 41.0,25.6 C40.0,24.6 38.0,24.3 36.5,23.6 C35.0,22.9 32.7,22.4 32.0,21.6 C31.3,20.8 31.6,19.5 32.5,18.6 Z"/>
<clipPath id="cN"><rect x="-5" y="-5" width="140" height="72"/></clipPath>
<clipPath id="cS"><rect x="-5" y="67" width="140" height="100"/></clipPath>
<clipPath id="cSW"><rect x="-5" y="67" width="67" height="43"/></clipPath>
<clipPath id="cSE"><path d="M62,67 H140 V170 H-5 V110 H62 Z"/></clipPath>
<clipPath id="seclip"><path d="M84,104 L126,98 L126,152 L66,152 L66,126 L80,118 Z"/></clipPath>
</defs>
<rect width="602" height="699" fill="#fff"/>
<g transform="translate(37.5,37.5)">
<use href="#glwd" fill="#e0e0e0" stroke="#a8a8a8" stroke-width="0.7"/>
<path d="M81.5,132.8 C82.1,132.2 83.5,131.4 85.0,131.6 C86.5,131.8 88.6,133.2 90.5,134.2 C92.4,135.2 94.6,136.4 96.5,137.6 C98.4,138.8 100.5,140.1 102.0,141.2 C103.5,142.3 105.1,143.5 105.6,144.4 C106.1,145.3 105.7,146.3 104.8,146.4 C103.9,146.5 101.7,145.8 100.0,145.2 C98.3,144.6 96.3,143.4 94.5,142.6 C92.7,141.8 90.7,141.0 89.0,140.2 C87.3,139.4 85.8,138.6 84.5,137.8 C83.2,137.0 81.7,136.2 81.2,135.4 C80.7,134.6 80.9,133.4 81.5,132.8 Z" fill="#f06800" stroke="#c41a00" stroke-width="1.0"/>
<path d="M83.5,133.4 C87.5,135 91,137.2 95,139.2 S101,142.6 104,144.6" fill="none" stroke="#f6e82a" stroke-width="1.6" stroke-linecap="round"/>
<path d="M85,138 C88.5,139.6 92,141.2 96,142.8 S100.5,144.6 103,145.6" fill="none" stroke="#c41a00" stroke-width="1.1" stroke-linecap="round"/>
<path d="M101.6,116.5 C104,117.2 105.8,119 106,121.5 C106.2,124 105,126 103,127.3" fill="none" stroke="#c41a00" stroke-width="3.6" stroke-linecap="round"/>
<path d="M101.6,116.5 C104,117.2 105.8,119 106,121.5 C106.2,124 105,126 103,127.3" fill="none" stroke="#f6e82a" stroke-width="2.0" stroke-linecap="round"/>
<path d="M106.5,115.5 L110.5,120.5 M108.8,114.5 L112,118.5" fill="none" stroke="#c41a00" stroke-width="1.1" stroke-linecap="round"/>
<use href="#navy2003" fill="none" stroke="#c41a00" stroke-width="5.5" stroke-linejoin="round" clip-path="url(#seclip)"/>
<use href="#navy2003" fill="none" stroke="#f6e82a" stroke-width="3.5" stroke-linejoin="round" clip-path="url(#seclip)"/>
<use href="#navy2003" fill="none" stroke="#8cf0b4" stroke-width="1.8" stroke-linejoin="round" clip-path="url(#seclip)"/>
<use href="#navy2003" fill="#0a2c82"/>
<use href="#navy2003" fill="none" stroke="#f6e82a" stroke-width="1.4" opacity="0.6"/>
<use href="#navy2003" fill="#0a2c82"/>
<use href="#isl1" fill="#fff"/><use href="#isl2" fill="#fff"/>
<ellipse cx="71.3" cy="141.5" rx="2.3" ry="1.5" fill="#0a2c82"/>
<circle cx="5.5" cy="75.5" r="0.7" fill="#c41a00"/>
<circle cx="8.5" cy="76.2" r="0.5" fill="#f06800"/>
<circle cx="6.0" cy="100.5" r="0.6" fill="#c41a00"/>
<circle cx="10.0" cy="99.5" r="0.5" fill="#c08080"/>
<circle cx="12.5" cy="101.5" r="0.5" fill="#b0a0a0"/>
<circle cx="113.0" cy="41.0" r="0.5" fill="#c0a0a0"/>
<circle cx="117.0" cy="62.0" r="0.5" fill="#c09090"/>
<circle cx="120.0" cy="139.0" r="0.6" fill="#b0b0c0"/>
<circle cx="110.0" cy="150.0" r="0.5" fill="#c08080"/>
<text x="5.3" y="150.1" font-size="10.6" fill="#1a1a1a" font-family="&apos;Liberation Sans&apos;, sans-serif">2003</text>
<rect x="0" y="0" width="127.0" height="153.2" fill="none" stroke="#262626" stroke-width="1.35"/>
<path d="M22.3,0 V-3 M22.3,153.2 V156.2 M0,40.8 H-3 M0,145.6 H-3 M127.0,40.8 H130.0 M127.0,145.6 H130.0" stroke="#262626" stroke-width="1.1" fill="none"/>
</g>
<g transform="translate(170.8,37.5)">
<use href="#glwd" fill="#e0e0e0" stroke="#a8a8a8" stroke-width="0.7"/>
<path d="M81.5,132.8 C82.1,132.2 83.5,131.4 85.0,131.6 C86.5,131.8 88.6,133.2 90.5,134.2 C92.4,135.2 94.6,136.4 96.5,137.6 C98.4,138.8 100.5,140.1 102.0,141.2 C103.5,142.3 105.1,143.5 105.6,144.4 C106.1,145.3 105.7,146.3 104.8,146.4 C103.9,146.5 101.7,145.8 100.0,145.2 C98.3,144.6 96.3,143.4 94.5,142.6 C92.7,141.8 90.7,141.0 89.0,140.2 C87.3,139.4 85.8,138.6 84.5,137.8 C83.2,137.0 81.7,136.2 81.2,135.4 C80.7,134.6 80.9,133.4 81.5,132.8 Z" fill="#f06800" stroke="#c41a00" stroke-width="1.0"/>
<path d="M83.5,133.4 C87.5,135 91,137.2 95,139.2 S101,142.6 104,144.6" fill="none" stroke="#f6e82a" stroke-width="1.6" stroke-linecap="round"/>
<path d="M85,138 C88.5,139.6 92,141.2 96,142.8 S100.5,144.6 103,145.6" fill="none" stroke="#c41a00" stroke-width="1.1" stroke-linecap="round"/>
<path d="M101.6,116.5 C104,117.2 105.8,119 106,121.5 C106.2,124 105,126 103,127.3" fill="none" stroke="#c41a00" stroke-width="3.6" stroke-linecap="round"/>
<path d="M101.6,116.5 C104,117.2 105.8,119 106,121.5 C106.2,124 105,126 103,127.3" fill="none" stroke="#f6e82a" stroke-width="2.0" stroke-linecap="round"/>
<path d="M106.5,115.5 L110.5,120.5 M108.8,114.5 L112,118.5" fill="none" stroke="#c41a00" stroke-width="1.1" stroke-linecap="round"/>
<use href="#navy2003" fill="none" stroke="#c41a00" stroke-width="5.5" stroke-linejoin="round" clip-path="url(#seclip)"/>
<use href="#navy2003" fill="none" stroke="#f6e82a" stroke-width="3.5" stroke-linejoin="round" clip-path="url(#seclip)"/>
<use href="#navy2003" fill="none" stroke="#8cf0b4" stroke-width="1.8" stroke-linejoin="round" clip-path="url(#seclip)"/>
<use href="#navy2003" fill="#0a2c82"/>
<use href="#navy2003" fill="none" stroke="#f6e82a" stroke-width="1.4" opacity="0.6"/>
<use href="#navy2003" fill="#0a2c82"/>
<use href="#isl1" fill="#fff"/><use href="#isl2" fill="#fff"/>
<ellipse cx="71.3" cy="141.5" rx="2.3" ry="1.5" fill="#0a2c82"/>
<circle cx="5.5" cy="75.5" r="0.7" fill="#c41a00"/>
<circle cx="8.5" cy="76.2" r="0.5" fill="#f06800"/>
<circle cx="6.0" cy="100.5" r="0.6" fill="#c41a00"/>
<circle cx="10.0" cy="99.5" r="0.5" fill="#c08080"/>
<circle cx="12.5" cy="101.5" r="0.5" fill="#b0a0a0"/>
<circle cx="113.0" cy="41.0" r="0.5" fill="#c0a0a0"/>
<circle cx="117.0" cy="62.0" r="0.5" fill="#c09090"/>
<circle cx="120.0" cy="139.0" r="0.6" fill="#b0b0c0"/>
<circle cx="110.0" cy="150.0" r="0.5" fill="#c08080"/>
<text x="5.8" y="150.8" font-size="10.6" fill="#1a1a1a" font-family="&apos;Liberation Sans&apos;, sans-serif">2004</text>
<rect x="0" y="0" width="127.2" height="153.2" fill="none" stroke="#262626" stroke-width="1.35"/>
<path d="M22.3,0 V-3 M22.3,153.2 V156.2 M0,40.8 H-3 M0,145.6 H-3 M127.2,40.8 H130.2 M127.2,145.6 H130.2" stroke="#262626" stroke-width="1.1" fill="none"/>
</g>
<g transform="translate(303.0,37.5)">
<use href="#glwd" fill="#e0e0e0" stroke="#a8a8a8" stroke-width="0.7"/>
<path d="M81.5,132.8 C82.1,132.2 83.5,131.4 85.0,131.6 C86.5,131.8 88.6,133.2 90.5,134.2 C92.4,135.2 94.6,136.4 96.5,137.6 C98.4,138.8 100.5,140.1 102.0,141.2 C103.5,142.3 105.1,143.5 105.6,144.4 C106.1,145.3 105.7,146.3 104.8,146.4 C103.9,146.5 101.7,145.8 100.0,145.2 C98.3,144.6 96.3,143.4 94.5,142.6 C92.7,141.8 90.7,141.0 89.0,140.2 C87.3,139.4 85.8,138.6 84.5,137.8 C83.2,137.0 81.7,136.2 81.2,135.4 C80.7,134.6 80.9,133.4 81.5,132.8 Z" fill="#f06800" stroke="#c41a00" stroke-width="1.0"/>
<path d="M83.5,133.4 C87.5,135 91,137.2 95,139.2 S101,142.6 104,144.6" fill="none" stroke="#f6e82a" stroke-width="1.6" stroke-linecap="round"/>
<path d="M85,138 C88.5,139.6 92,141.2 96,142.8 S100.5,144.6 103,145.6" fill="none" stroke="#c41a00" stroke-width="1.1" stroke-linecap="round"/>
<path d="M101.6,116.5 C104,117.2 105.8,119 106,121.5 C106.2,124 105,126 103,127.3" fill="none" stroke="#c41a00" stroke-width="3.6" stroke-linecap="round"/>
<path d="M101.6,116.5 C104,117.2 105.8,119 106,121.5 C106.2,124 105,126 103,127.3" fill="none" stroke="#f6e82a" stroke-width="2.0" stroke-linecap="round"/>
<path d="M106.5,115.5 L110.5,120.5 M108.8,114.5 L112,118.5" fill="none" stroke="#c41a00" stroke-width="1.1" stroke-linecap="round"/>
<use href="#navy2003" fill="none" stroke="#c41a00" stroke-width="5.5" stroke-linejoin="round" clip-path="url(#seclip)"/>
<use href="#navy2003" fill="none" stroke="#f6e82a" stroke-width="3.5" stroke-linejoin="round" clip-path="url(#seclip)"/>
<use href="#navy2003" fill="none" stroke="#8cf0b4" stroke-width="1.8" stroke-linejoin="round" clip-path="url(#seclip)"/>
<use href="#navy2003" fill="#0a2c82"/>
<use href="#navy2003" fill="none" stroke="#f6e82a" stroke-width="1.4" opacity="0.6"/>
<use href="#navy2003" fill="#0a2c82"/>
<use href="#isl1" fill="#fff"/><use href="#isl2" fill="#fff"/>
<ellipse cx="71.3" cy="141.5" rx="2.3" ry="1.5" fill="#0a2c82"/>
<circle cx="5.5" cy="75.5" r="0.7" fill="#c41a00"/>
<circle cx="8.5" cy="76.2" r="0.5" fill="#f06800"/>
<circle cx="6.0" cy="100.5" r="0.6" fill="#c41a00"/>
<circle cx="10.0" cy="99.5" r="0.5" fill="#c08080"/>
<circle cx="12.5" cy="101.5" r="0.5" fill="#b0a0a0"/>
<circle cx="113.0" cy="41.0" r="0.5" fill="#c0a0a0"/>
<circle cx="117.0" cy="62.0" r="0.5" fill="#c09090"/>
<circle cx="120.0" cy="139.0" r="0.6" fill="#b0b0c0"/>
<circle cx="110.0" cy="150.0" r="0.5" fill="#c08080"/>
<text x="5.5" y="149.1" font-size="10.6" fill="#1a1a1a" font-family="&apos;Liberation Sans&apos;, sans-serif">2005</text>
<rect x="0" y="0" width="127.4" height="153.2" fill="none" stroke="#262626" stroke-width="1.35"/>
<path d="M22.3,0 V-3 M22.3,153.2 V156.2 M0,40.8 H-3 M0,145.6 H-3 M127.4,40.8 H130.4 M127.4,145.6 H130.4" stroke="#262626" stroke-width="1.1" fill="none"/>
</g>
<g transform="translate(436.8,37.5)">
<use href="#glwd" fill="#e0e0e0" stroke="#a8a8a8" stroke-width="0.7"/>
<path d="M81.5,132.8 C82.1,132.2 83.5,131.4 85.0,131.6 C86.5,131.8 88.6,133.2 90.5,134.2 C92.4,135.2 94.6,136.4 96.5,137.6 C98.4,138.8 100.5,140.1 102.0,141.2 C103.5,142.3 105.1,143.5 105.6,144.4 C106.1,145.3 105.7,146.3 104.8,146.4 C103.9,146.5 101.7,145.8 100.0,145.2 C98.3,144.6 96.3,143.4 94.5,142.6 C92.7,141.8 90.7,141.0 89.0,140.2 C87.3,139.4 85.8,138.6 84.5,137.8 C83.2,137.0 81.7,136.2 81.2,135.4 C80.7,134.6 80.9,133.4 81.5,132.8 Z" fill="#f06800" stroke="#c41a00" stroke-width="1.0"/>
<path d="M83.5,133.4 C87.5,135 91,137.2 95,139.2 S101,142.6 104,144.6" fill="none" stroke="#f6e82a" stroke-width="1.6" stroke-linecap="round"/>
<path d="M85,138 C88.5,139.6 92,141.2 96,142.8 S100.5,144.6 103,145.6" fill="none" stroke="#c41a00" stroke-width="1.1" stroke-linecap="round"/>
<path d="M101.6,116.5 C104,117.2 105.8,119 106,121.5 C106.2,124 105,126 103,127.3" fill="none" stroke="#c41a00" stroke-width="3.6" stroke-linecap="round"/>
<path d="M101.6,116.5 C104,117.2 105.8,119 106,121.5 C106.2,124 105,126 103,127.3" fill="none" stroke="#f6e82a" stroke-width="2.0" stroke-linecap="round"/>
<path d="M106.5,115.5 L110.5,120.5 M108.8,114.5 L112,118.5" fill="none" stroke="#c41a00" stroke-width="1.1" stroke-linecap="round"/>
<use href="#navy2003" fill="none" stroke="#c41a00" stroke-width="5.5" stroke-linejoin="round" clip-path="url(#seclip)"/>
<use href="#navy2003" fill="none" stroke="#f6e82a" stroke-width="3.5" stroke-linejoin="round" clip-path="url(#seclip)"/>
<use href="#navy2003" fill="none" stroke="#8cf0b4" stroke-width="1.8" stroke-linejoin="round" clip-path="url(#seclip)"/>
<use href="#navy2003" fill="#0a2c82"/>
<use href="#navy2003" fill="none" stroke="#f6e82a" stroke-width="1.4" opacity="0.6"/>
<use href="#navy2003" fill="#0a2c82"/>
<use href="#isl1" fill="#fff"/><use href="#isl2" fill="#fff"/>
<ellipse cx="71.3" cy="141.5" rx="2.3" ry="1.5" fill="#0a2c82"/>
<circle cx="5.5" cy="75.5" r="0.7" fill="#c41a00"/>
<circle cx="8.5" cy="76.2" r="0.5" fill="#f06800"/>
<circle cx="6.0" cy="100.5" r="0.6" fill="#c41a00"/>
<circle cx="10.0" cy="99.5" r="0.5" fill="#c08080"/>
<circle cx="12.5" cy="101.5" r="0.5" fill="#b0a0a0"/>
<circle cx="113.0" cy="41.0" r="0.5" fill="#c0a0a0"/>
<circle cx="117.0" cy="62.0" r="0.5" fill="#c09090"/>
<circle cx="120.0" cy="139.0" r="0.6" fill="#b0b0c0"/>
<circle cx="110.0" cy="150.0" r="0.5" fill="#c08080"/>
<text x="7.3" y="151.1" font-size="10.6" fill="#1a1a1a" font-family="&apos;Liberation Sans&apos;, sans-serif">2006</text>
<rect x="0" y="0" width="127.2" height="153.2" fill="none" stroke="#262626" stroke-width="1.35"/>
<path d="M22.3,0 V-3 M22.3,153.2 V156.2 M0,40.8 H-3 M0,145.6 H-3 M127.2,40.8 H130.2 M127.2,145.6 H130.2" stroke="#262626" stroke-width="1.1" fill="none"/>
</g>
<g transform="translate(37.5,194.4)">
<use href="#glwd" fill="#e0e0e0" stroke="#a8a8a8" stroke-width="0.7"/>
<path d="M81.5,132.8 C82.1,132.2 83.5,131.4 85.0,131.6 C86.5,131.8 88.6,133.2 90.5,134.2 C92.4,135.2 94.6,136.4 96.5,137.6 C98.4,138.8 100.5,140.1 102.0,141.2 C103.5,142.3 105.1,143.5 105.6,144.4 C106.1,145.3 105.7,146.3 104.8,146.4 C103.9,146.5 101.7,145.8 100.0,145.2 C98.3,144.6 96.3,143.4 94.5,142.6 C92.7,141.8 90.7,141.0 89.0,140.2 C87.3,139.4 85.8,138.6 84.5,137.8 C83.2,137.0 81.7,136.2 81.2,135.4 C80.7,134.6 80.9,133.4 81.5,132.8 Z" fill="#f06800" stroke="#c41a00" stroke-width="1.0"/>
<path d="M83.5,133.4 C87.5,135 91,137.2 95,139.2 S101,142.6 104,144.6" fill="none" stroke="#f6e82a" stroke-width="1.6" stroke-linecap="round"/>
<path d="M85,138 C88.5,139.6 92,141.2 96,142.8 S100.5,144.6 103,145.6" fill="none" stroke="#c41a00" stroke-width="1.1" stroke-linecap="round"/>
<path d="M101.6,116.5 C104,117.2 105.8,119 106,121.5 C106.2,124 105,126 103,127.3" fill="none" stroke="#c41a00" stroke-width="3.6" stroke-linecap="round"/>
<path d="M101.6,116.5 C104,117.2 105.8,119 106,121.5 C106.2,124 105,126 103,127.3" fill="none" stroke="#f6e82a" stroke-width="2.0" stroke-linecap="round"/>
<path d="M106.5,115.5 L110.5,120.5 M108.8,114.5 L112,118.5" fill="none" stroke="#c41a00" stroke-width="1.1" stroke-linecap="round"/>
<use href="#navy2003" fill="none" stroke="#c41a00" stroke-width="5.5" stroke-linejoin="round" clip-path="url(#seclip)"/>
<use href="#navy2003" fill="none" stroke="#f6e82a" stroke-width="3.5" stroke-linejoin="round" clip-path="url(#seclip)"/>
<use href="#navy2003" fill="none" stroke="#8cf0b4" stroke-width="1.8" stroke-linejoin="round" clip-path="url(#seclip)"/>
<use href="#navy2003" fill="#0a2c82"/>
<use href="#navy2003" fill="none" stroke="#f6e82a" stroke-width="1.4" opacity="0.6"/>
<use href="#navy2003" fill="#0a2c82"/>
<use href="#isl1" fill="#fff"/><use href="#isl2" fill="#fff"/>
<ellipse cx="71.3" cy="141.5" rx="2.3" ry="1.5" fill="#2a88d0"/>
<circle cx="5.5" cy="75.5" r="0.7" fill="#c41a00"/>
<circle cx="8.5" cy="76.2" r="0.5" fill="#f06800"/>
<circle cx="6.0" cy="100.5" r="0.6" fill="#c41a00"/>
<circle cx="10.0" cy="99.5" r="0.5" fill="#c08080"/>
<circle cx="12.5" cy="101.5" r="0.5" fill="#b0a0a0"/>
<circle cx="113.0" cy="41.0" r="0.5" fill="#c0a0a0"/>
<circle cx="117.0" cy="62.0" r="0.5" fill="#c09090"/>
<circle cx="120.0" cy="139.0" r="0.6" fill="#b0b0c0"/>
<circle cx="110.0" cy="150.0" r="0.5" fill="#c08080"/>
<path d="M83.7,55.1 L84.8,62.8 L88.1,63.9 L92.5,59.5 L99.1,58.4 L103.5,55.1 L106.8,52.9" fill="none" stroke="#c41a00" stroke-width="0.9"/>
<text x="5.3" y="148.3" font-size="10.6" fill="#1a1a1a" font-family="&apos;Liberation Sans&apos;, sans-serif">2007</text>
<rect x="0" y="0" width="127.0" height="153.2" fill="none" stroke="#262626" stroke-width="1.35"/>
<path d="M22.3,0 V-3 M22.3,153.2 V156.2 M0,40.8 H-3 M0,145.6 H-3 M127.0,40.8 H130.0 M127.0,145.6 H130.0" stroke="#262626" stroke-width="1.1" fill="none"/>
</g>
<g transform="translate(170.8,194.4)">
<use href="#glwd" fill="#e0e0e0" stroke="#a8a8a8" stroke-width="0.7"/>
<path d="M81.5,132.8 C82.1,132.2 83.5,131.4 85.0,131.6 C86.5,131.8 88.6,133.2 90.5,134.2 C92.4,135.2 94.6,136.4 96.5,137.6 C98.4,138.8 100.5,140.1 102.0,141.2 C103.5,142.3 105.1,143.5 105.6,144.4 C106.1,145.3 105.7,146.3 104.8,146.4 C103.9,146.5 101.7,145.8 100.0,145.2 C98.3,144.6 96.3,143.4 94.5,142.6 C92.7,141.8 90.7,141.0 89.0,140.2 C87.3,139.4 85.8,138.6 84.5,137.8 C83.2,137.0 81.7,136.2 81.2,135.4 C80.7,134.6 80.9,133.4 81.5,132.8 Z" fill="#f06800" stroke="#c41a00" stroke-width="1.0"/>
<path d="M83.5,133.4 C87.5,135 91,137.2 95,139.2 S101,142.6 104,144.6" fill="none" stroke="#f6e82a" stroke-width="1.6" stroke-linecap="round"/>
<path d="M85,138 C88.5,139.6 92,141.2 96,142.8 S100.5,144.6 103,145.6" fill="none" stroke="#c41a00" stroke-width="1.1" stroke-linecap="round"/>
<path d="M101.6,116.5 C104,117.2 105.8,119 106,121.5 C106.2,124 105,126 103,127.3" fill="none" stroke="#c41a00" stroke-width="3.6" stroke-linecap="round"/>
<path d="M101.6,116.5 C104,117.2 105.8,119 106,121.5 C106.2,124 105,126 103,127.3" fill="none" stroke="#f6e82a" stroke-width="2.0" stroke-linecap="round"/>
<path d="M106.5,115.5 L110.5,120.5 M108.8,114.5 L112,118.5" fill="none" stroke="#c41a00" stroke-width="1.1" stroke-linecap="round"/>
<use href="#navy2008" fill="none" stroke="#f06800" stroke-width="3.6" stroke-linejoin="round"/>
<use href="#navy2008" fill="none" stroke="#f6e82a" stroke-width="2.6" stroke-linejoin="round"/>
<use href="#navy2008" fill="none" stroke="#30d4f4" stroke-width="1.2" stroke-linejoin="round"/>
<use href="#navy2008" fill="#0a2c82"/>
<use href="#isl1" fill="#fff"/><use href="#isl2" fill="#fff"/>
<ellipse cx="71.3" cy="141.5" rx="2.3" ry="1.5" fill="#2a88d0"/>
<circle cx="5.5" cy="75.5" r="0.7" fill="#c41a00"/>
<circle cx="8.5" cy="76.2" r="0.5" fill="#f06800"/>
<circle cx="6.0" cy="100.5" r="0.6" fill="#c41a00"/>
<circle cx="10.0" cy="99.5" r="0.5" fill="#c08080"/>
<circle cx="12.5" cy="101.5" r="0.5" fill="#b0a0a0"/>
<circle cx="113.0" cy="41.0" r="0.5" fill="#c0a0a0"/>
<circle cx="117.0" cy="62.0" r="0.5" fill="#c09090"/>
<circle cx="120.0" cy="139.0" r="0.6" fill="#b0b0c0"/>
<circle cx="110.0" cy="150.0" r="0.5" fill="#c08080"/>
<text x="7.7" y="148.2" font-size="10.6" fill="#1a1a1a" font-family="&apos;Liberation Sans&apos;, sans-serif">2008</text>
<rect x="0" y="0" width="127.2" height="153.2" fill="none" stroke="#262626" stroke-width="1.35"/>
<path d="M22.3,0 V-3 M22.3,153.2 V156.2 M0,40.8 H-3 M0,145.6 H-3 M127.2,40.8 H130.2 M127.2,145.6 H130.2" stroke="#262626" stroke-width="1.1" fill="none"/>
</g>
<g transform="translate(303.0,194.4)">
<use href="#glwd" fill="#e0e0e0" stroke="#a8a8a8" stroke-width="0.7"/>
<path d="M81.5,132.8 C82.1,132.2 83.5,131.4 85.0,131.6 C86.5,131.8 88.6,133.2 90.5,134.2 C92.4,135.2 94.6,136.4 96.5,137.6 C98.4,138.8 100.5,140.1 102.0,141.2 C103.5,142.3 105.1,143.5 105.6,144.4 C106.1,145.3 105.7,146.3 104.8,146.4 C103.9,146.5 101.7,145.8 100.0,145.2 C98.3,144.6 96.3,143.4 94.5,142.6 C92.7,141.8 90.7,141.0 89.0,140.2 C87.3,139.4 85.8,138.6 84.5,137.8 C83.2,137.0 81.7,136.2 81.2,135.4 C80.7,134.6 80.9,133.4 81.5,132.8 Z" fill="#f06800" stroke="#c41a00" stroke-width="1.0"/>
<path d="M83.5,133.4 C87.5,135 91,137.2 95,139.2 S101,142.6 104,144.6" fill="none" stroke="#f6e82a" stroke-width="1.6" stroke-linecap="round"/>
<path d="M85,138 C88.5,139.6 92,141.2 96,142.8 S100.5,144.6 103,145.6" fill="none" stroke="#c41a00" stroke-width="1.1" stroke-linecap="round"/>
<path d="M101.6,116.5 C104,117.2 105.8,119 106,121.5 C106.2,124 105,126 103,127.3" fill="none" stroke="#c41a00" stroke-width="3.6" stroke-linecap="round"/>
<path d="M101.6,116.5 C104,117.2 105.8,119 106,121.5 C106.2,124 105,126 103,127.3" fill="none" stroke="#f6e82a" stroke-width="2.0" stroke-linecap="round"/>
<path d="M106.5,115.5 L110.5,120.5 M108.8,114.5 L112,118.5" fill="none" stroke="#c41a00" stroke-width="1.1" stroke-linecap="round"/>
<use href="#navy2009" fill="none" stroke="#f6e82a" stroke-width="2.8" clip-path="url(#cN)"/>
<use href="#navy2009" fill="none" stroke="#8cf0b4" stroke-width="1.6" clip-path="url(#cN)"/>
<use href="#navy2009" fill="none" stroke="#f6e82a" stroke-width="2.8" clip-path="url(#cSW)"/>
<use href="#navy2009" fill="none" stroke="#8cf0b4" stroke-width="1.6" clip-path="url(#cSW)"/>
<use href="#navy2009" fill="none" stroke="#c41a00" stroke-width="7.0" clip-path="url(#cSE)" stroke-linejoin="round"/>
<use href="#navy2009" fill="none" stroke="#f06800" stroke-width="5.4" clip-path="url(#cSE)" stroke-linejoin="round"/>
<use href="#navy2009" fill="none" stroke="#f6e82a" stroke-width="4.2" clip-path="url(#cSE)" stroke-linejoin="round"/>
<use href="#navy2009" fill="none" stroke="#8cf0b4" stroke-width="3.0" clip-path="url(#cSE)" stroke-linejoin="round"/>
<use href="#navy2009" fill="none" stroke="#30d4f4" stroke-width="2.0" clip-path="url(#cSE)" stroke-linejoin="round"/>
<use href="#navy2009" fill="#0a2c82"/>
<use href="#CYAN09" fill="#30d4f4" stroke="#8cf0b4" stroke-width="0.8"/>
<ellipse cx="99.5" cy="98" rx="2.4" ry="3" fill="#0a2c82"/>
<use href="#ISL09a" fill="#f4f4f0" stroke="#8cf0b4" stroke-width="0.8"/>
<use href="#ISL09b" fill="#f4f4f0" stroke="#8cf0b4" stroke-width="0.8"/>
<ellipse cx="71.3" cy="141.5" rx="2.3" ry="1.5" fill="#0a2c82"/>
<path d="M52.5,65.6 L58,63.8 L65.5,61.2" fill="none" stroke="#4a78b8" stroke-width="0.8" opacity="0.8"/>
<circle cx="5.5" cy="75.5" r="0.7" fill="#c41a00"/>
<circle cx="8.5" cy="76.2" r="0.5" fill="#f06800"/>
<circle cx="6.0" cy="100.5" r="0.6" fill="#c41a00"/>
<circle cx="10.0" cy="99.5" r="0.5" fill="#c08080"/>
<circle cx="12.5" cy="101.5" r="0.5" fill="#b0a0a0"/>
<circle cx="113.0" cy="41.0" r="0.5" fill="#c0a0a0"/>
<circle cx="117.0" cy="62.0" r="0.5" fill="#c09090"/>
<circle cx="120.0" cy="139.0" r="0.6" fill="#b0b0c0"/>
<circle cx="110.0" cy="150.0" r="0.5" fill="#c08080"/>
<text x="5.5" y="147.6" font-size="10.6" fill="#1a1a1a" font-family="&apos;Liberation Sans&apos;, sans-serif">2009</text>
<rect x="0" y="0" width="127.4" height="153.2" fill="none" stroke="#262626" stroke-width="1.35"/>
<path d="M22.3,0 V-3 M22.3,153.2 V156.2 M0,40.8 H-3 M0,145.6 H-3 M127.4,40.8 H130.4 M127.4,145.6 H130.4" stroke="#262626" stroke-width="1.1" fill="none"/>
</g>
<g transform="translate(436.8,194.4)">
<use href="#glwd" fill="#e0e0e0" stroke="#a8a8a8" stroke-width="0.7"/>
<path d="M81.5,132.8 C82.1,132.2 83.5,131.4 85.0,131.6 C86.5,131.8 88.6,133.2 90.5,134.2 C92.4,135.2 94.6,136.4 96.5,137.6 C98.4,138.8 100.5,140.1 102.0,141.2 C103.5,142.3 105.1,143.5 105.6,144.4 C106.1,145.3 105.7,146.3 104.8,146.4 C103.9,146.5 101.7,145.8 100.0,145.2 C98.3,144.6 96.3,143.4 94.5,142.6 C92.7,141.8 90.7,141.0 89.0,140.2 C87.3,139.4 85.8,138.6 84.5,137.8 C83.2,137.0 81.7,136.2 81.2,135.4 C80.7,134.6 80.9,133.4 81.5,132.8 Z" fill="#f06800" stroke="#c41a00" stroke-width="1.0"/>
<path d="M83.5,133.4 C87.5,135 91,137.2 95,139.2 S101,142.6 104,144.6" fill="none" stroke="#f6e82a" stroke-width="1.6" stroke-linecap="round"/>
<path d="M85,138 C88.5,139.6 92,141.2 96,142.8 S100.5,144.6 103,145.6" fill="none" stroke="#c41a00" stroke-width="1.1" stroke-linecap="round"/>
<path d="M101.6,116.5 C104,117.2 105.8,119 106,121.5 C106.2,124 105,126 103,127.3" fill="none" stroke="#c41a00" stroke-width="3.6" stroke-linecap="round"/>
<path d="M101.6,116.5 C104,117.2 105.8,119 106,121.5 C106.2,124 105,126 103,127.3" fill="none" stroke="#f6e82a" stroke-width="2.0" stroke-linecap="round"/>
<path d="M106.5,115.5 L110.5,120.5 M108.8,114.5 L112,118.5" fill="none" stroke="#c41a00" stroke-width="1.1" stroke-linecap="round"/>
<use href="#navy2010" fill="none" stroke="#f6e82a" stroke-width="2.8" clip-path="url(#cN)"/>
<use href="#navy2010" fill="none" stroke="#8cf0b4" stroke-width="1.6" clip-path="url(#cN)"/>
<use href="#navy2010" fill="none" stroke="#f6e82a" stroke-width="2.8" clip-path="url(#cSW)"/>
<use href="#navy2010" fill="none" stroke="#8cf0b4" stroke-width="1.6" clip-path="url(#cSW)"/>
<use href="#navy2010" fill="none" stroke="#c41a00" stroke-width="7.0" clip-path="url(#cSE)" stroke-linejoin="round"/>
<use href="#navy2010" fill="none" stroke="#f06800" stroke-width="5.4" clip-path="url(#cSE)" stroke-linejoin="round"/>
<use href="#navy2010" fill="none" stroke="#f6e82a" stroke-width="4.2" clip-path="url(#cSE)" stroke-linejoin="round"/>
<use href="#navy2010" fill="none" stroke="#8cf0b4" stroke-width="3.0" clip-path="url(#cSE)" stroke-linejoin="round"/>
<use href="#navy2010" fill="none" stroke="#30d4f4" stroke-width="2.0" clip-path="url(#cSE)" stroke-linejoin="round"/>
<use href="#navy2010" fill="#0a2c82"/>
<use href="#CYAN09" fill="#30d4f4" stroke="#8cf0b4" stroke-width="0.8"/>
<ellipse cx="99.5" cy="98" rx="2.4" ry="3" fill="#0a2c82"/>
<path d="M82,100 L88,98 L92,101 L88,105 L83,104 Z" fill="#30d4f4"/>
<use href="#ISL09a" fill="#f4f4f0" stroke="#8cf0b4" stroke-width="0.8"/>
<use href="#ISL09b" fill="#f4f4f0" stroke="#8cf0b4" stroke-width="0.8"/>
<ellipse cx="71.3" cy="141.5" rx="2.3" ry="1.5" fill="#0a2c82"/>
<path d="M52.5,65.6 L58,63.8 L65.5,61.2" fill="none" stroke="#4a78b8" stroke-width="0.8" opacity="0.8"/>
<circle cx="5.5" cy="75.5" r="0.7" fill="#c41a00"/>
<circle cx="8.5" cy="76.2" r="0.5" fill="#f06800"/>
<circle cx="6.0" cy="100.5" r="0.6" fill="#c41a00"/>
<circle cx="10.0" cy="99.5" r="0.5" fill="#c08080"/>
<circle cx="12.5" cy="101.5" r="0.5" fill="#b0a0a0"/>
<circle cx="113.0" cy="41.0" r="0.5" fill="#c0a0a0"/>
<circle cx="117.0" cy="62.0" r="0.5" fill="#c09090"/>
<circle cx="120.0" cy="139.0" r="0.6" fill="#b0b0c0"/>
<circle cx="110.0" cy="150.0" r="0.5" fill="#c08080"/>
<text x="7.3" y="148.2" font-size="10.6" fill="#1a1a1a" font-family="&apos;Liberation Sans&apos;, sans-serif">2010</text>
<rect x="0" y="0" width="127.2" height="153.2" fill="none" stroke="#262626" stroke-width="1.35"/>
<path d="M22.3,0 V-3 M22.3,153.2 V156.2 M0,40.8 H-3 M0,145.6 H-3 M127.2,40.8 H130.2 M127.2,145.6 H130.2" stroke="#262626" stroke-width="1.1" fill="none"/>
</g>
<g transform="translate(37.5,351.2)">
<use href="#glwd" fill="#e0e0e0" stroke="#a8a8a8" stroke-width="0.7"/>
<path d="M73.5,121.5 C74.1,120.9 76.0,121.8 77.5,122.8 C79.0,123.8 80.8,126.0 82.5,127.5 C84.2,129.0 86.0,130.4 88.0,131.8 C90.0,133.2 92.4,134.8 94.5,136.2 C96.6,137.6 98.7,138.9 100.5,140.2 C102.3,141.5 104.6,142.7 105.4,143.8 C106.2,144.9 106.1,146.3 105.2,146.6 C104.3,146.9 101.9,146.2 100.0,145.6 C98.1,145.0 96.0,143.9 94.0,143.0 C92.0,142.1 90.0,141.1 88.0,140.0 C86.0,138.9 83.8,137.6 82.0,136.2 C80.2,134.8 78.4,133.1 77.0,131.5 C75.6,129.9 74.4,128.2 73.8,126.5 C73.2,124.8 72.9,122.1 73.5,121.5 Z" fill="#f06800" stroke="#c41a00" stroke-width="1.2"/>
<path d="M76,126 C80,129 84,133 89,136.5 S97,141 102,143.5" fill="none" stroke="#a00800" stroke-width="1.6" stroke-dasharray="2 1.5"/>
<path d="M83.5,133.4 C87.5,135 91,137.2 95,139.2 S101,142.6 104,144.6" fill="none" stroke="#f6e82a" stroke-width="1.6" stroke-linecap="round"/>
<path d="M85,138 C88.5,139.6 92,141.2 96,142.8 S100.5,144.6 103,145.6" fill="none" stroke="#c41a00" stroke-width="1.1" stroke-linecap="round"/>
<use href="#estrip" fill="none" stroke="#c41a00" stroke-width="4.0" stroke-linecap="round"/>
<use href="#estrip" fill="none" stroke="#f06800" stroke-width="1.6" stroke-linecap="round"/>
<g clip-path="url(#cSW)"><use href="#WET" fill="none" stroke="#c41a00" stroke-width="1.2" stroke-dasharray="1.2 1.6" transform="translate(-3,0)" opacity="0.8"/></g>
<path d="M89.5,78.5 L95.5,85.5 L101.5,92.5 L107.5,99.5 L112,104.5" fill="none" stroke="#a00800" stroke-width="1.3" stroke-dasharray="1.4 1.4" opacity="0.85"/>
<use href="#WET" fill="none" stroke="#a00800" stroke-width="4.4" clip-path="url(#cS)" stroke-linejoin="round"/>
<use href="#WET" fill="none" stroke="#c41a00" stroke-width="3.4" clip-path="url(#cS)" stroke-linejoin="round"/>
<use href="#WET" fill="none" stroke="#f06800" stroke-width="2.4" clip-path="url(#cS)" stroke-linejoin="round"/>
<use href="#WET" fill="none" stroke="#f6e82a" stroke-width="1.3" clip-path="url(#cS)" stroke-linejoin="round"/>
<use href="#WET" fill="#8cf0b4" clip-path="url(#cS)"/>
<use href="#REDISL" fill="#f6e82a" transform="translate(10,10) scale(0.9)"/>
<use href="#navy2011" fill="none" stroke="#f06800" stroke-width="3.2" clip-path="url(#cN)" stroke-linejoin="round"/>
<use href="#navy2011" fill="none" stroke="#f6e82a" stroke-width="2.2" clip-path="url(#cN)" stroke-linejoin="round"/>
<use href="#navy2011" fill="none" stroke="#8cf0b4" stroke-width="1.2" clip-path="url(#cN)" stroke-linejoin="round"/>
<use href="#navy2011" fill="none" stroke="#30d4f4" stroke-width="2.4" clip-path="url(#cS)"/>
<use href="#navy2011" fill="#0a2c82"/>
<use href="#ISLAND" fill="none" stroke="#f6e82a" stroke-width="4.5"/>
<use href="#ISLAND" fill="#f4f4f4" stroke="#d05010" stroke-width="1.2"/>
<use href="#ISLAND" fill="#e2e2e6" transform="translate(41,50) scale(0.5)"/>
<ellipse cx="71.3" cy="141.5" rx="2.3" ry="1.5" fill="#0a2c82"/>
<path d="M52.5,65.6 L58,63.8 L65.5,61.2" fill="none" stroke="#4a78b8" stroke-width="0.8" opacity="0.8"/>
<circle cx="5.5" cy="75.5" r="0.7" fill="#c41a00"/>
<circle cx="8.5" cy="76.2" r="0.5" fill="#f06800"/>
<circle cx="6.0" cy="100.5" r="0.6" fill="#c41a00"/>
<circle cx="10.0" cy="99.5" r="0.5" fill="#c08080"/>
<circle cx="12.5" cy="101.5" r="0.5" fill="#b0a0a0"/>
<circle cx="113.0" cy="41.0" r="0.5" fill="#c0a0a0"/>
<circle cx="117.0" cy="62.0" r="0.5" fill="#c09090"/>
<circle cx="120.0" cy="139.0" r="0.6" fill="#b0b0c0"/>
<circle cx="110.0" cy="150.0" r="0.5" fill="#c08080"/>
<path d="M2,101 L7,100 L12,98.5" fill="none" stroke="#9090a0" stroke-width="0.8"/>
<text x="5.6" y="147.8" font-size="10.6" fill="#1a1a1a" font-family="&apos;Liberation Sans&apos;, sans-serif">2011</text>
<rect x="0" y="0" width="127.0" height="153.3" fill="none" stroke="#262626" stroke-width="1.35"/>
<path d="M22.3,0 V-3 M22.3,153.3 V156.3 M0,40.8 H-3 M0,145.6 H-3 M127.0,40.8 H130.0 M127.0,145.6 H130.0" stroke="#262626" stroke-width="1.1" fill="none"/>
</g>
<g transform="translate(170.8,351.2)">
<use href="#glwd" fill="#e0e0e0" stroke="#a8a8a8" stroke-width="0.7"/>
<path d="M73.5,121.5 C74.1,120.9 76.0,121.8 77.5,122.8 C79.0,123.8 80.8,126.0 82.5,127.5 C84.2,129.0 86.0,130.4 88.0,131.8 C90.0,133.2 92.4,134.8 94.5,136.2 C96.6,137.6 98.7,138.9 100.5,140.2 C102.3,141.5 104.6,142.7 105.4,143.8 C106.2,144.9 106.1,146.3 105.2,146.6 C104.3,146.9 101.9,146.2 100.0,145.6 C98.1,145.0 96.0,143.9 94.0,143.0 C92.0,142.1 90.0,141.1 88.0,140.0 C86.0,138.9 83.8,137.6 82.0,136.2 C80.2,134.8 78.4,133.1 77.0,131.5 C75.6,129.9 74.4,128.2 73.8,126.5 C73.2,124.8 72.9,122.1 73.5,121.5 Z" fill="#f06800" stroke="#c41a00" stroke-width="1.2"/>
<path d="M76,126 C80,129 84,133 89,136.5 S97,141 102,143.5" fill="none" stroke="#a00800" stroke-width="1.6" stroke-dasharray="2 1.5"/>
<path d="M83.5,133.4 C87.5,135 91,137.2 95,139.2 S101,142.6 104,144.6" fill="none" stroke="#f6e82a" stroke-width="1.6" stroke-linecap="round"/>
<path d="M85,138 C88.5,139.6 92,141.2 96,142.8 S100.5,144.6 103,145.6" fill="none" stroke="#c41a00" stroke-width="1.1" stroke-linecap="round"/>
<use href="#estrip" fill="none" stroke="#c41a00" stroke-width="4.0" stroke-linecap="round"/>
<use href="#estrip" fill="none" stroke="#f06800" stroke-width="1.6" stroke-linecap="round"/>
<g clip-path="url(#cSW)"><use href="#WET" fill="none" stroke="#c41a00" stroke-width="1.2" stroke-dasharray="1.2 1.6" transform="translate(-3,0)" opacity="0.8"/></g>
<path d="M89.5,78.5 L95.5,85.5 L101.5,92.5 L107.5,99.5 L112,104.5" fill="none" stroke="#a00800" stroke-width="1.3" stroke-dasharray="1.4 1.4" opacity="0.85"/>
<use href="#WET" fill="none" stroke="#a00800" stroke-width="4.4" clip-path="url(#cS)" stroke-linejoin="round"/>
<use href="#WET" fill="none" stroke="#c41a00" stroke-width="3.4" clip-path="url(#cS)" stroke-linejoin="round"/>
<use href="#WET" fill="none" stroke="#f06800" stroke-width="2.4" clip-path="url(#cS)" stroke-linejoin="round"/>
<use href="#WET" fill="none" stroke="#f6e82a" stroke-width="1.3" clip-path="url(#cS)" stroke-linejoin="round"/>
<use href="#WET" fill="#8cf0b4" clip-path="url(#cS)"/>
<use href="#CYANS" fill="#30d4f4"/>
<use href="#REDISL" fill="#f6e82a" transform="translate(10,10) scale(0.9)"/>
<use href="#navy2012" fill="none" stroke="#f6e82a" stroke-width="3.2" clip-path="url(#cN)" stroke-linejoin="round"/>
<use href="#navy2012" fill="none" stroke="#8cf0b4" stroke-width="2.2" clip-path="url(#cN)" stroke-linejoin="round"/>
<use href="#navy2012" fill="none" stroke="#30d4f4" stroke-width="1.4" clip-path="url(#cN)" stroke-linejoin="round"/>
<use href="#navy2012" fill="none" stroke="#30d4f4" stroke-width="2.4" clip-path="url(#cS)"/>
<use href="#navy2012" fill="#0a2c82"/>
<path d="M59,70.5 L64,68.8 L70,69.8 L75,72.3 L74,77 L68,79 L62,78.5 L59.5,75 Z" fill="#2aa8ec"/>
<circle cx="77.5" cy="84" r="1.8" fill="#40c8f0"/>
<use href="#ISLAND" fill="none" stroke="#f6e82a" stroke-width="4.5"/>
<use href="#ISLAND" fill="#f4f4f4" stroke="#d05010" stroke-width="1.2"/>
<use href="#ISLAND" fill="#e2e2e6" transform="translate(41,50) scale(0.5)"/>
<ellipse cx="71.3" cy="141.5" rx="2.3" ry="1.5" fill="#0a2c82"/>
<path d="M52.5,65.6 L58,63.8 L65.5,61.2" fill="none" stroke="#4a78b8" stroke-width="0.8" opacity="0.8"/>
<circle cx="5.5" cy="75.5" r="0.7" fill="#c41a00"/>
<circle cx="8.5" cy="76.2" r="0.5" fill="#f06800"/>
<circle cx="6.0" cy="100.5" r="0.6" fill="#c41a00"/>
<circle cx="10.0" cy="99.5" r="0.5" fill="#c08080"/>
<circle cx="12.5" cy="101.5" r="0.5" fill="#b0a0a0"/>
<circle cx="113.0" cy="41.0" r="0.5" fill="#c0a0a0"/>
<circle cx="117.0" cy="62.0" r="0.5" fill="#c09090"/>
<circle cx="120.0" cy="139.0" r="0.6" fill="#b0b0c0"/>
<circle cx="110.0" cy="150.0" r="0.5" fill="#c08080"/>
<path d="M2,101 L7,100 L12,98.5" fill="none" stroke="#9090a0" stroke-width="0.8"/>
<text x="6.0" y="146.4" font-size="10.6" fill="#1a1a1a" font-family="&apos;Liberation Sans&apos;, sans-serif">2012</text>
<rect x="0" y="0" width="127.2" height="153.3" fill="none" stroke="#262626" stroke-width="1.35"/>
<path d="M22.3,0 V-3 M22.3,153.3 V156.3 M0,40.8 H-3 M0,145.6 H-3 M127.2,40.8 H130.2 M127.2,145.6 H130.2" stroke="#262626" stroke-width="1.1" fill="none"/>
</g>
<g transform="translate(303.0,351.2)">
<use href="#glwd" fill="#e0e0e0" stroke="#a8a8a8" stroke-width="0.7"/>
<path d="M73.5,121.5 C74.1,120.9 76.0,121.8 77.5,122.8 C79.0,123.8 80.8,126.0 82.5,127.5 C84.2,129.0 86.0,130.4 88.0,131.8 C90.0,133.2 92.4,134.8 94.5,136.2 C96.6,137.6 98.7,138.9 100.5,140.2 C102.3,141.5 104.6,142.7 105.4,143.8 C106.2,144.9 106.1,146.3 105.2,146.6 C104.3,146.9 101.9,146.2 100.0,145.6 C98.1,145.0 96.0,143.9 94.0,143.0 C92.0,142.1 90.0,141.1 88.0,140.0 C86.0,138.9 83.8,137.6 82.0,136.2 C80.2,134.8 78.4,133.1 77.0,131.5 C75.6,129.9 74.4,128.2 73.8,126.5 C73.2,124.8 72.9,122.1 73.5,121.5 Z" fill="#f06800" stroke="#c41a00" stroke-width="1.2"/>
<path d="M76,126 C80,129 84,133 89,136.5 S97,141 102,143.5" fill="none" stroke="#a00800" stroke-width="1.6" stroke-dasharray="2 1.5"/>
<path d="M83.5,133.4 C87.5,135 91,137.2 95,139.2 S101,142.6 104,144.6" fill="none" stroke="#f6e82a" stroke-width="1.6" stroke-linecap="round"/>
<path d="M85,138 C88.5,139.6 92,141.2 96,142.8 S100.5,144.6 103,145.6" fill="none" stroke="#c41a00" stroke-width="1.1" stroke-linecap="round"/>
<path d="M98.5,100 L100.5,105 L102.5,110 L103.5,114" fill="none" stroke="#c41a00" stroke-width="3.6" stroke-linecap="round"/>
<path d="M98.5,100 L100.5,105 L102.5,110 L103.5,114" fill="none" stroke="#f06800" stroke-width="1.4" stroke-linecap="round"/>
<g clip-path="url(#cSW)"><use href="#WET" fill="none" stroke="#c41a00" stroke-width="1.2" stroke-dasharray="1.2 1.6" transform="translate(-3,0)" opacity="0.8"/></g>
<path d="M89.5,78.5 L95.5,85.5 L101.5,92.5 L107.5,99.5 L112,104.5" fill="none" stroke="#a00800" stroke-width="1.3" stroke-dasharray="1.4 1.4" opacity="0.85"/>
<use href="#WET" fill="none" stroke="#a00800" stroke-width="4.4" clip-path="url(#cS)" stroke-linejoin="round"/>
<use href="#WET" fill="none" stroke="#c41a00" stroke-width="3.4" clip-path="url(#cS)" stroke-linejoin="round"/>
<use href="#WET" fill="none" stroke="#f06800" stroke-width="2.4" clip-path="url(#cS)" stroke-linejoin="round"/>
<use href="#WET" fill="none" stroke="#f6e82a" stroke-width="1.3" clip-path="url(#cS)" stroke-linejoin="round"/>
<use href="#WET" fill="#7ee8d0" clip-path="url(#cS)"/>
<g clip-path="url(#cS)"><use href="#WET" fill="#30d4f4" transform="translate(8,10) scale(0.86)"/></g>
<use href="#BLUE13" fill="#1a78d8" stroke="#1aa0e8" stroke-width="1.5"/>
<use href="#YEL13" fill="#f6e82a" stroke="#8cf0b4" stroke-width="1.4"/>
<use href="#REDBL" fill="#a00800" stroke="#f06800" stroke-width="1.2"/>
<use href="#navy2013" fill="none" stroke="#f6e82a" stroke-width="2.8" clip-path="url(#cN)" stroke-linejoin="round"/>
<use href="#navy2013" fill="none" stroke="#8cf0b4" stroke-width="1.6" clip-path="url(#cN)" stroke-linejoin="round"/>
<use href="#navy2013" fill="none" stroke="#30d4f4" stroke-width="2.4" clip-path="url(#cS)"/>
<use href="#navy2013" fill="#0a2c82"/>
<use href="#ISLAND" fill="none" stroke="#f6e82a" stroke-width="4.5"/>
<use href="#ISLAND" fill="#f4f4f4" stroke="#d05010" stroke-width="1.2"/>
<use href="#ISLAND" fill="#e2e2e6" transform="translate(41,50) scale(0.5)"/>
<ellipse cx="71.3" cy="141.5" rx="2.3" ry="1.5" fill="#0a2c82"/>
<path d="M52.5,65.6 L58,63.8 L65.5,61.2" fill="none" stroke="#4a78b8" stroke-width="0.8" opacity="0.8"/>
<circle cx="5.5" cy="75.5" r="0.7" fill="#c41a00"/>
<circle cx="8.5" cy="76.2" r="0.5" fill="#f06800"/>
<circle cx="6.0" cy="100.5" r="0.6" fill="#c41a00"/>
<circle cx="10.0" cy="99.5" r="0.5" fill="#c08080"/>
<circle cx="12.5" cy="101.5" r="0.5" fill="#b0a0a0"/>
<circle cx="113.0" cy="41.0" r="0.5" fill="#c0a0a0"/>
<circle cx="117.0" cy="62.0" r="0.5" fill="#c09090"/>
<circle cx="120.0" cy="139.0" r="0.6" fill="#b0b0c0"/>
<circle cx="110.0" cy="150.0" r="0.5" fill="#c08080"/>
<path d="M2,101 L7,100 L12,98.5" fill="none" stroke="#9090a0" stroke-width="0.8"/>
<text x="6.1" y="146.8" font-size="10.6" fill="#1a1a1a" font-family="&apos;Liberation Sans&apos;, sans-serif">2013</text>
<rect x="0" y="0" width="127.4" height="153.3" fill="none" stroke="#262626" stroke-width="1.35"/>
<path d="M22.3,0 V-3 M22.3,153.3 V156.3 M0,40.8 H-3 M0,145.6 H-3 M127.4,40.8 H130.4 M127.4,145.6 H130.4" stroke="#262626" stroke-width="1.1" fill="none"/>
</g>
<g transform="translate(436.8,351.2)">
<use href="#glwd" fill="#e0e0e0" stroke="#a8a8a8" stroke-width="0.7"/>
<path d="M73.5,121.5 C74.1,120.9 76.0,121.8 77.5,122.8 C79.0,123.8 80.8,126.0 82.5,127.5 C84.2,129.0 86.0,130.4 88.0,131.8 C90.0,133.2 92.4,134.8 94.5,136.2 C96.6,137.6 98.7,138.9 100.5,140.2 C102.3,141.5 104.6,142.7 105.4,143.8 C106.2,144.9 106.1,146.3 105.2,146.6 C104.3,146.9 101.9,146.2 100.0,145.6 C98.1,145.0 96.0,143.9 94.0,143.0 C92.0,142.1 90.0,141.1 88.0,140.0 C86.0,138.9 83.8,137.6 82.0,136.2 C80.2,134.8 78.4,133.1 77.0,131.5 C75.6,129.9 74.4,128.2 73.8,126.5 C73.2,124.8 72.9,122.1 73.5,121.5 Z" fill="#f06800" stroke="#c41a00" stroke-width="1.2"/>
<path d="M76,126 C80,129 84,133 89,136.5 S97,141 102,143.5" fill="none" stroke="#a00800" stroke-width="1.6" stroke-dasharray="2 1.5"/>
<path d="M83.5,133.4 C87.5,135 91,137.2 95,139.2 S101,142.6 104,144.6" fill="none" stroke="#f6e82a" stroke-width="1.6" stroke-linecap="round"/>
<path d="M85,138 C88.5,139.6 92,141.2 96,142.8 S100.5,144.6 103,145.6" fill="none" stroke="#c41a00" stroke-width="1.1" stroke-linecap="round"/>
<path d="M98.5,100 L100.5,105 L102.5,110 L103.5,114" fill="none" stroke="#c41a00" stroke-width="3.6" stroke-linecap="round"/>
<path d="M98.5,100 L100.5,105 L102.5,110 L103.5,114" fill="none" stroke="#f06800" stroke-width="1.4" stroke-linecap="round"/>
<g clip-path="url(#cSW)"><use href="#WET" fill="none" stroke="#c41a00" stroke-width="1.2" stroke-dasharray="1.2 1.6" transform="translate(-3,0)" opacity="0.8"/></g>
<path d="M89.5,78.5 L95.5,85.5 L101.5,92.5 L107.5,99.5 L112,104.5" fill="none" stroke="#a00800" stroke-width="1.3" stroke-dasharray="1.4 1.4" opacity="0.85"/>
<use href="#WET" fill="none" stroke="#a00800" stroke-width="4.4" clip-path="url(#cS)" stroke-linejoin="round"/>
<use href="#WET" fill="none" stroke="#c41a00" stroke-width="3.4" clip-path="url(#cS)" stroke-linejoin="round"/>
<use href="#WET" fill="none" stroke="#f06800" stroke-width="2.4" clip-path="url(#cS)" stroke-linejoin="round"/>
<use href="#WET" fill="none" stroke="#f6e82a" stroke-width="1.3" clip-path="url(#cS)" stroke-linejoin="round"/>
<use href="#WET" fill="#60e0e0" clip-path="url(#cS)"/>
<g clip-path="url(#cS)"><use href="#WET" fill="#30d4f4" transform="translate(7,9) scale(0.87)"/></g>
<use href="#BLUE14" fill="#1a78d8" opacity="0.8"/>
<use href="#REDBL" fill="#c41a00" stroke="#f06800" stroke-width="1.2"/>
<use href="#REDISL" fill="#c41a00" stroke="#f06800" stroke-width="1.6"/>
<ellipse cx="65" cy="75.5" rx="4.5" ry="3" fill="#c41a00" stroke="#f06800" stroke-width="1.2"/>
<use href="#CYAN14" fill="#28c8f4" stroke="#8cf0b4" stroke-width="1.5"/><use href="#CYAN14L" fill="#28b8f0"/>
<use href="#navy2014" fill="none" stroke="#f6e82a" stroke-width="6.4" stroke-linejoin="round"/>
<use href="#navy2014" fill="none" stroke="#8cf0b4" stroke-width="5.0" stroke-linejoin="round"/>
<use href="#navy2014" fill="none" stroke="#30d4f4" stroke-width="3.6" stroke-linejoin="round"/>
<use href="#navy2014" fill="none" stroke="#1e9ae8" stroke-width="2.0" stroke-linejoin="round"/>
<use href="#CYAN14" fill="#28c8f4"/>
<use href="#navy2014" fill="#0a2c82"/>
<use href="#ISLAND" fill="none" stroke="#f06800" stroke-width="4.5"/>
<use href="#ISLAND" fill="#f4f4f4" stroke="#c41a00" stroke-width="2.0"/>
<use href="#ISLAND" fill="#e2e2e6" transform="translate(41,50) scale(0.5)"/>
<ellipse cx="71.3" cy="141.5" rx="2.3" ry="1.5" fill="#0a2c82"/>
<path d="M52.5,65.6 L58,63.8 L65.5,61.2" fill="none" stroke="#4a78b8" stroke-width="0.8" opacity="0.8"/>
<circle cx="5.5" cy="75.5" r="0.7" fill="#c41a00"/>
<circle cx="8.5" cy="76.2" r="0.5" fill="#f06800"/>
<circle cx="6.0" cy="100.5" r="0.6" fill="#c41a00"/>
<circle cx="10.0" cy="99.5" r="0.5" fill="#c08080"/>
<circle cx="12.5" cy="101.5" r="0.5" fill="#b0a0a0"/>
<circle cx="113.0" cy="41.0" r="0.5" fill="#c0a0a0"/>
<circle cx="117.0" cy="62.0" r="0.5" fill="#c09090"/>
<circle cx="120.0" cy="139.0" r="0.6" fill="#b0b0c0"/>
<circle cx="110.0" cy="150.0" r="0.5" fill="#c08080"/>
<path d="M2,101 L7,100 L12,98.5" fill="none" stroke="#9090a0" stroke-width="0.8"/>
<text x="7.0" y="148.4" font-size="10.6" fill="#1a1a1a" font-family="&apos;Liberation Sans&apos;, sans-serif">2014</text>
<rect x="0" y="0" width="127.2" height="153.3" fill="none" stroke="#262626" stroke-width="1.35"/>
<path d="M22.3,0 V-3 M22.3,153.3 V156.3 M0,40.8 H-3 M0,145.6 H-3 M127.2,40.8 H130.2 M127.2,145.6 H130.2" stroke="#262626" stroke-width="1.1" fill="none"/>
</g>
<g transform="translate(37.5,508.2)">
<use href="#glwd" fill="#e0e0e0" stroke="#a8a8a8" stroke-width="0.7"/>
<path d="M73.5,121.5 C74.1,120.9 76.0,121.8 77.5,122.8 C79.0,123.8 80.8,126.0 82.5,127.5 C84.2,129.0 86.0,130.4 88.0,131.8 C90.0,133.2 92.4,134.8 94.5,136.2 C96.6,137.6 98.7,138.9 100.5,140.2 C102.3,141.5 104.6,142.7 105.4,143.8 C106.2,144.9 106.1,146.3 105.2,146.6 C104.3,146.9 101.9,146.2 100.0,145.6 C98.1,145.0 96.0,143.9 94.0,143.0 C92.0,142.1 90.0,141.1 88.0,140.0 C86.0,138.9 83.8,137.6 82.0,136.2 C80.2,134.8 78.4,133.1 77.0,131.5 C75.6,129.9 74.4,128.2 73.8,126.5 C73.2,124.8 72.9,122.1 73.5,121.5 Z" fill="#f06800" stroke="#c41a00" stroke-width="1.2"/>
<path d="M76,126 C80,129 84,133 89,136.5 S97,141 102,143.5" fill="none" stroke="#a00800" stroke-width="1.6" stroke-dasharray="2 1.5"/>
<path d="M83.5,133.4 C87.5,135 91,137.2 95,139.2 S101,142.6 104,144.6" fill="none" stroke="#f6e82a" stroke-width="1.6" stroke-linecap="round"/>
<path d="M85,138 C88.5,139.6 92,141.2 96,142.8 S100.5,144.6 103,145.6" fill="none" stroke="#c41a00" stroke-width="1.1" stroke-linecap="round"/>
<path d="M98.5,100 L100.5,105 L102.5,110 L103.5,114" fill="none" stroke="#c41a00" stroke-width="3.6" stroke-linecap="round"/>
<path d="M98.5,100 L100.5,105 L102.5,110 L103.5,114" fill="none" stroke="#f06800" stroke-width="1.4" stroke-linecap="round"/>
<g clip-path="url(#cSW)"><use href="#WET" fill="none" stroke="#c41a00" stroke-width="1.2" stroke-dasharray="1.2 1.6" transform="translate(-3,0)" opacity="0.8"/></g>
<path d="M89.5,78.5 L95.5,85.5 L101.5,92.5 L107.5,99.5 L112,104.5" fill="none" stroke="#a00800" stroke-width="1.3" stroke-dasharray="1.4 1.4" opacity="0.85"/>
<use href="#WET15N" fill="none" stroke="#f06800" stroke-width="3.6" clip-path="url(#cN)"/>
<use href="#WET15N" fill="none" stroke="#f6e82a" stroke-width="2.4" clip-path="url(#cN)"/>
<use href="#WET15N" fill="none" stroke="#8cf0b4" stroke-width="1.2" clip-path="url(#cN)"/>
<use href="#WET15N" fill="#a0f0a8" clip-path="url(#cN)"/>
<use href="#WET" fill="none" stroke="#a00800" stroke-width="4.4" clip-path="url(#cS)" stroke-linejoin="round"/>
<use href="#WET" fill="none" stroke="#c41a00" stroke-width="3.4" clip-path="url(#cS)" stroke-linejoin="round"/>
<use href="#WET" fill="none" stroke="#f06800" stroke-width="2.4" clip-path="url(#cS)" stroke-linejoin="round"/>
<use href="#WET" fill="none" stroke="#f6e82a" stroke-width="1.3" clip-path="url(#cS)" stroke-linejoin="round"/>
<use href="#WET" fill="#a0f0a8" clip-path="url(#cS)"/>
<g clip-path="url(#cS)"><use href="#WET" fill="#78f0c8" transform="translate(8,10) scale(0.86)"/></g>
<path d="M57,86 L62,84 L67,88 L68,98 L66,107 L61,108 L57.5,100 Z" fill="#30e8f0"/>
<use href="#REDBL" fill="#c41a00" stroke="#f06800" stroke-width="1.2"/>
<use href="#REDISL" fill="#c41a00" stroke="#f06800" stroke-width="1.6"/>
<ellipse cx="65" cy="75.5" rx="4.5" ry="3" fill="#f06800" stroke="#f6e82a" stroke-width="1.2"/>
<use href="#navy2015" fill="none" stroke="#30d4f4" stroke-width="2.0" stroke-linejoin="round"/>
<use href="#navy2015" fill="#0a2c82"/>
<use href="#ISLAND" fill="none" stroke="#f06800" stroke-width="4.5"/>
<use href="#ISLAND" fill="#f4f4f4" stroke="#c41a00" stroke-width="2.0"/>
<use href="#ISLAND" fill="#e2e2e6" transform="translate(41,50) scale(0.5)"/>
<ellipse cx="71.3" cy="141.5" rx="2.3" ry="1.5" fill="#0a2c82"/>
<path d="M52.5,65.6 L58,63.8 L65.5,61.2" fill="none" stroke="#4a78b8" stroke-width="0.8" opacity="0.8"/>
<circle cx="5.5" cy="75.5" r="0.7" fill="#c41a00"/>
<circle cx="8.5" cy="76.2" r="0.5" fill="#f06800"/>
<circle cx="6.0" cy="100.5" r="0.6" fill="#c41a00"/>
<circle cx="10.0" cy="99.5" r="0.5" fill="#c08080"/>
<circle cx="12.5" cy="101.5" r="0.5" fill="#b0a0a0"/>
<circle cx="113.0" cy="41.0" r="0.5" fill="#c0a0a0"/>
<circle cx="117.0" cy="62.0" r="0.5" fill="#c09090"/>
<circle cx="120.0" cy="139.0" r="0.6" fill="#b0b0c0"/>
<circle cx="110.0" cy="150.0" r="0.5" fill="#c08080"/>
<path d="M2,101 L7,100 L12,98.5" fill="none" stroke="#9090a0" stroke-width="0.8"/>
<text x="5.3" y="148.1" font-size="10.6" fill="#1a1a1a" font-family="&apos;Liberation Sans&apos;, sans-serif">2015</text>
<rect x="0" y="0" width="127.0" height="153.2" fill="none" stroke="#262626" stroke-width="1.35"/>
<path d="M22.3,0 V-3 M22.3,153.2 V156.2 M0,40.8 H-3 M0,145.6 H-3 M127.0,40.8 H130.0 M127.0,145.6 H130.0" stroke="#262626" stroke-width="1.1" fill="none"/>
</g>
<g transform="translate(170.8,508.2)">
<use href="#glwd" fill="#e0e0e0" stroke="#a8a8a8" stroke-width="0.7"/>
<path d="M73.5,121.5 C74.1,120.9 76.0,121.8 77.5,122.8 C79.0,123.8 80.8,126.0 82.5,127.5 C84.2,129.0 86.0,130.4 88.0,131.8 C90.0,133.2 92.4,134.8 94.5,136.2 C96.6,137.6 98.7,138.9 100.5,140.2 C102.3,141.5 104.6,142.7 105.4,143.8 C106.2,144.9 106.1,146.3 105.2,146.6 C104.3,146.9 101.9,146.2 100.0,145.6 C98.1,145.0 96.0,143.9 94.0,143.0 C92.0,142.1 90.0,141.1 88.0,140.0 C86.0,138.9 83.8,137.6 82.0,136.2 C80.2,134.8 78.4,133.1 77.0,131.5 C75.6,129.9 74.4,128.2 73.8,126.5 C73.2,124.8 72.9,122.1 73.5,121.5 Z" fill="#f06800" stroke="#c41a00" stroke-width="1.2"/>
<path d="M76,126 C80,129 84,133 89,136.5 S97,141 102,143.5" fill="none" stroke="#a00800" stroke-width="1.6" stroke-dasharray="2 1.5"/>
<path d="M83.5,133.4 C87.5,135 91,137.2 95,139.2 S101,142.6 104,144.6" fill="none" stroke="#f6e82a" stroke-width="1.6" stroke-linecap="round"/>
<path d="M85,138 C88.5,139.6 92,141.2 96,142.8 S100.5,144.6 103,145.6" fill="none" stroke="#c41a00" stroke-width="1.1" stroke-linecap="round"/>
<use href="#estrip" fill="none" stroke="#c41a00" stroke-width="4.0" stroke-linecap="round"/>
<use href="#estrip" fill="none" stroke="#f06800" stroke-width="1.6" stroke-linecap="round"/>
<g clip-path="url(#cSW)"><use href="#WET" fill="none" stroke="#c41a00" stroke-width="1.2" stroke-dasharray="1.2 1.6" transform="translate(-3,0)" opacity="0.8"/></g>
<path d="M89.5,78.5 L95.5,85.5 L101.5,92.5 L107.5,99.5 L112,104.5" fill="none" stroke="#a00800" stroke-width="1.3" stroke-dasharray="1.4 1.4" opacity="0.85"/>
<use href="#WET" fill="none" stroke="#a00800" stroke-width="4.4" clip-path="url(#cS)" stroke-linejoin="round"/>
<use href="#WET" fill="none" stroke="#c41a00" stroke-width="3.4" clip-path="url(#cS)" stroke-linejoin="round"/>
<use href="#WET" fill="none" stroke="#f06800" stroke-width="2.4" clip-path="url(#cS)" stroke-linejoin="round"/>
<use href="#WET" fill="none" stroke="#f6e82a" stroke-width="1.3" clip-path="url(#cS)" stroke-linejoin="round"/>
<use href="#WET" fill="#8cf0b4" clip-path="url(#cS)"/>
<use href="#CYANS" fill="#30d4f4"/>
<use href="#REDBL" fill="#c41a00" stroke="#f06800" stroke-width="1.2"/>
<use href="#REDISL" fill="#f6e82a" transform="translate(10,10) scale(0.9)"/>
<use href="#navy2016" fill="none" stroke="#c41a00" stroke-width="5.6" clip-path="url(#cN)" stroke-linejoin="round"/>
<use href="#navy2016" fill="none" stroke="#f06800" stroke-width="4.4" clip-path="url(#cN)" stroke-linejoin="round"/>
<use href="#navy2016" fill="none" stroke="#f6e82a" stroke-width="3.2" clip-path="url(#cN)" stroke-linejoin="round"/>
<use href="#navy2016" fill="none" stroke="#30d4f4" stroke-width="1.6" clip-path="url(#cN)" stroke-linejoin="round"/>
<use href="#navy2016" fill="none" stroke="#30d4f4" stroke-width="2.4" clip-path="url(#cS)"/>
<use href="#navy2016" fill="#0a2c82"/>
<path d="M59.5,72 L63,70.5 L67.5,72 L67,76.5 L62.5,78 L59.5,76 Z" fill="#30d4f4"/>
<circle cx="79" cy="82.6" r="2.2" fill="#50e0d8"/>
<use href="#ISLAND" fill="none" stroke="#f6e82a" stroke-width="4.5"/>
<use href="#ISLAND" fill="#f4f4f4" stroke="#d05010" stroke-width="1.2"/>
<use href="#ISLAND" fill="#e2e2e6" transform="translate(41,50) scale(0.5)"/>
<ellipse cx="71.3" cy="141.5" rx="2.3" ry="1.5" fill="#0a2c82"/>
<path d="M52.5,65.6 L58,63.8 L65.5,61.2" fill="none" stroke="#4a78b8" stroke-width="0.8" opacity="0.8"/>
<circle cx="5.5" cy="75.5" r="0.7" fill="#c41a00"/>
<circle cx="8.5" cy="76.2" r="0.5" fill="#f06800"/>
<circle cx="6.0" cy="100.5" r="0.6" fill="#c41a00"/>
<circle cx="10.0" cy="99.5" r="0.5" fill="#c08080"/>
<circle cx="12.5" cy="101.5" r="0.5" fill="#b0a0a0"/>
<circle cx="113.0" cy="41.0" r="0.5" fill="#c0a0a0"/>
<circle cx="117.0" cy="62.0" r="0.5" fill="#c09090"/>
<circle cx="120.0" cy="139.0" r="0.6" fill="#b0b0c0"/>
<circle cx="110.0" cy="150.0" r="0.5" fill="#c08080"/>
<path d="M2,101 L7,100 L12,98.5" fill="none" stroke="#9090a0" stroke-width="0.8"/>
<text x="5.8" y="147.8" font-size="10.6" fill="#1a1a1a" font-family="&apos;Liberation Sans&apos;, sans-serif">2016</text>
<rect x="0" y="0" width="127.2" height="153.2" fill="none" stroke="#262626" stroke-width="1.35"/>
<path d="M22.3,0 V-3 M22.3,153.2 V156.2 M0,40.8 H-3 M0,145.6 H-3 M127.2,40.8 H130.2 M127.2,145.6 H130.2" stroke="#262626" stroke-width="1.1" fill="none"/>
</g>
<text x="59.8" y="32.2" text-anchor="middle" font-size="6.7" fill="#3a3a3a" font-family="&apos;Liberation Sans&apos;, sans-serif">45°0'0"E</text>
<text x="193.1" y="32.2" text-anchor="middle" font-size="6.7" fill="#3a3a3a" font-family="&apos;Liberation Sans&apos;, sans-serif">45°0'0"E</text>
<text x="325.3" y="32.2" text-anchor="middle" font-size="6.7" fill="#3a3a3a" font-family="&apos;Liberation Sans&apos;, sans-serif">45°0'0"E</text>
<text x="459.1" y="32.2" text-anchor="middle" font-size="6.7" fill="#3a3a3a" font-family="&apos;Liberation Sans&apos;, sans-serif">45°0'0"E</text>
<text x="59.8" y="671.6" text-anchor="middle" font-size="6.7" fill="#3a3a3a" font-family="&apos;Liberation Sans&apos;, sans-serif">45°0'0"E</text>
<text x="193.1" y="671.6" text-anchor="middle" font-size="6.7" fill="#3a3a3a" font-family="&apos;Liberation Sans&apos;, sans-serif">45°0'0"E</text>
<text x="325.3" y="514.7" text-anchor="middle" font-size="6.7" fill="#3a3a3a" font-family="&apos;Liberation Sans&apos;, sans-serif">45°0'0"E</text>
<text x="459.1" y="514.7" text-anchor="middle" font-size="6.7" fill="#3a3a3a" font-family="&apos;Liberation Sans&apos;, sans-serif">45°0'0"E</text>
<text transform="translate(29.8,78.3) rotate(-90)" x="0" y="2.4" text-anchor="middle" font-size="6.7" fill="#3a3a3a" font-family="&apos;Liberation Sans&apos;, sans-serif">38°0'0"N</text>
<text transform="translate(29.8,183.1) rotate(-90)" x="0" y="2.4" text-anchor="middle" font-size="6.7" fill="#3a3a3a" font-family="&apos;Liberation Sans&apos;, sans-serif">37°0'0"N</text>
<text transform="translate(29.8,235.2) rotate(-90)" x="0" y="2.4" text-anchor="middle" font-size="6.7" fill="#3a3a3a" font-family="&apos;Liberation Sans&apos;, sans-serif">38°0'0"N</text>
<text transform="translate(29.8,340.0) rotate(-90)" x="0" y="2.4" text-anchor="middle" font-size="6.7" fill="#3a3a3a" font-family="&apos;Liberation Sans&apos;, sans-serif">37°0'0"N</text>
<text transform="translate(29.8,392.0) rotate(-90)" x="0" y="2.4" text-anchor="middle" font-size="6.7" fill="#3a3a3a" font-family="&apos;Liberation Sans&apos;, sans-serif">38°0'0"N</text>
<text transform="translate(29.8,496.8) rotate(-90)" x="0" y="2.4" text-anchor="middle" font-size="6.7" fill="#3a3a3a" font-family="&apos;Liberation Sans&apos;, sans-serif">37°0'0"N</text>
<text transform="translate(29.8,549.0) rotate(-90)" x="0" y="2.4" text-anchor="middle" font-size="6.7" fill="#3a3a3a" font-family="&apos;Liberation Sans&apos;, sans-serif">38°0'0"N</text>
<text transform="translate(29.8,653.8) rotate(-90)" x="0" y="2.4" text-anchor="middle" font-size="6.7" fill="#3a3a3a" font-family="&apos;Liberation Sans&apos;, sans-serif">37°0'0"N</text>
<text transform="translate(571.9,78.3) rotate(-90)" x="0" y="2.4" text-anchor="middle" font-size="6.7" fill="#3a3a3a" font-family="&apos;Liberation Sans&apos;, sans-serif">38°0'0"N</text>
<text transform="translate(571.9,183.1) rotate(-90)" x="0" y="2.4" text-anchor="middle" font-size="6.7" fill="#3a3a3a" font-family="&apos;Liberation Sans&apos;, sans-serif">37°0'0"N</text>
<text transform="translate(571.9,235.2) rotate(-90)" x="0" y="2.4" text-anchor="middle" font-size="6.7" fill="#3a3a3a" font-family="&apos;Liberation Sans&apos;, sans-serif">38°0'0"N</text>
<text transform="translate(571.9,340.0) rotate(-90)" x="0" y="2.4" text-anchor="middle" font-size="6.7" fill="#3a3a3a" font-family="&apos;Liberation Sans&apos;, sans-serif">37°0'0"N</text>
<text transform="translate(571.9,392.0) rotate(-90)" x="0" y="2.4" text-anchor="middle" font-size="6.7" fill="#3a3a3a" font-family="&apos;Liberation Sans&apos;, sans-serif">38°0'0"N</text>
<text transform="translate(571.9,496.8) rotate(-90)" x="0" y="2.4" text-anchor="middle" font-size="6.7" fill="#3a3a3a" font-family="&apos;Liberation Sans&apos;, sans-serif">37°0'0"N</text>
<text transform="translate(306.1,549.0) rotate(-90)" x="0" y="2.4" text-anchor="middle" font-size="6.7" fill="#3a3a3a" font-family="&apos;Liberation Sans&apos;, sans-serif">38°0'0"N</text>
<text transform="translate(306.1,653.8) rotate(-90)" x="0" y="2.4" text-anchor="middle" font-size="6.7" fill="#3a3a3a" font-family="&apos;Liberation Sans&apos;, sans-serif">37°0'0"N</text>

<text x="328.2" y="530.9" text-anchor="middle" font-size="8.3" fill="#1a1a1a" stroke="#1a1a1a" stroke-width="0.25" font-family="&apos;Liberation Sans&apos;, sans-serif">N</text>
<path d="M328.1,533.6 L333.4,551.2 L327.9,545.4 Z" fill="#fff" stroke="#222" stroke-width="0.7" stroke-linejoin="miter"/>
<path d="M328.1,533.6 L322.5,551.2 L327.9,545.4 Z" fill="#111" stroke="#111" stroke-width="0.7"/>
<text x="346.1" y="536" text-anchor="middle" font-size="10.3" fill="#1a1a1a" font-family="&apos;Liberation Sans&apos;, sans-serif">0</text>
<text x="370" y="536" text-anchor="middle" font-size="10.3" fill="#1a1a1a" font-family="&apos;Liberation Sans&apos;, sans-serif">25</text>
<text x="388" y="536" font-size="10.3" fill="#1a1a1a" font-family="&apos;Liberation Sans&apos;, sans-serif">50 km</text>
<path d="M346.2,541 V548 H393.8 V541 M370,544 V548" fill="none" stroke="#333" stroke-width="1"/>
<text x="497.6" y="535.3" text-anchor="middle" font-size="11.8" font-weight="bold" fill="#111" font-family="&apos;Liberation Sans&apos;, sans-serif">Lake Urmia</text>
<text x="498" y="549.4" text-anchor="middle" font-size="11.9" font-weight="bold" fill="#111" font-family="&apos;Liberation Sans&apos;, sans-serif">Surface Water Development</text>
<text x="329.5" y="591.2" text-anchor="middle" font-size="9.9" fill="#1a1a1a" font-family="&apos;Liberation Sans&apos;, sans-serif">0</text>
<text x="444" y="589.8" text-anchor="middle" font-size="10.6" fill="#1a1a1a" font-family="&apos;Liberation Sans&apos;, sans-serif">Surface Water Cover Duration (Days)</text>
<text x="556" y="593.1" text-anchor="middle" font-size="9.4" fill="#1a1a1a" font-family="&apos;Liberation Sans&apos;, sans-serif">365</text>
<rect x="328.2" y="596.8" width="229.4" height="13.4" fill="url(#ramp)"/>
<rect x="328.7" y="631.6" width="25.8" height="13.2" fill="#e0e0e0" stroke="#8a8a8a" stroke-width="1"/>
<text x="365.2" y="641.4" font-size="10.6" fill="#1a1a1a" font-family="&apos;Liberation Sans&apos;, sans-serif">Lake extend GLWD (~1993-2003)</text>

</svg>
</body></html>
